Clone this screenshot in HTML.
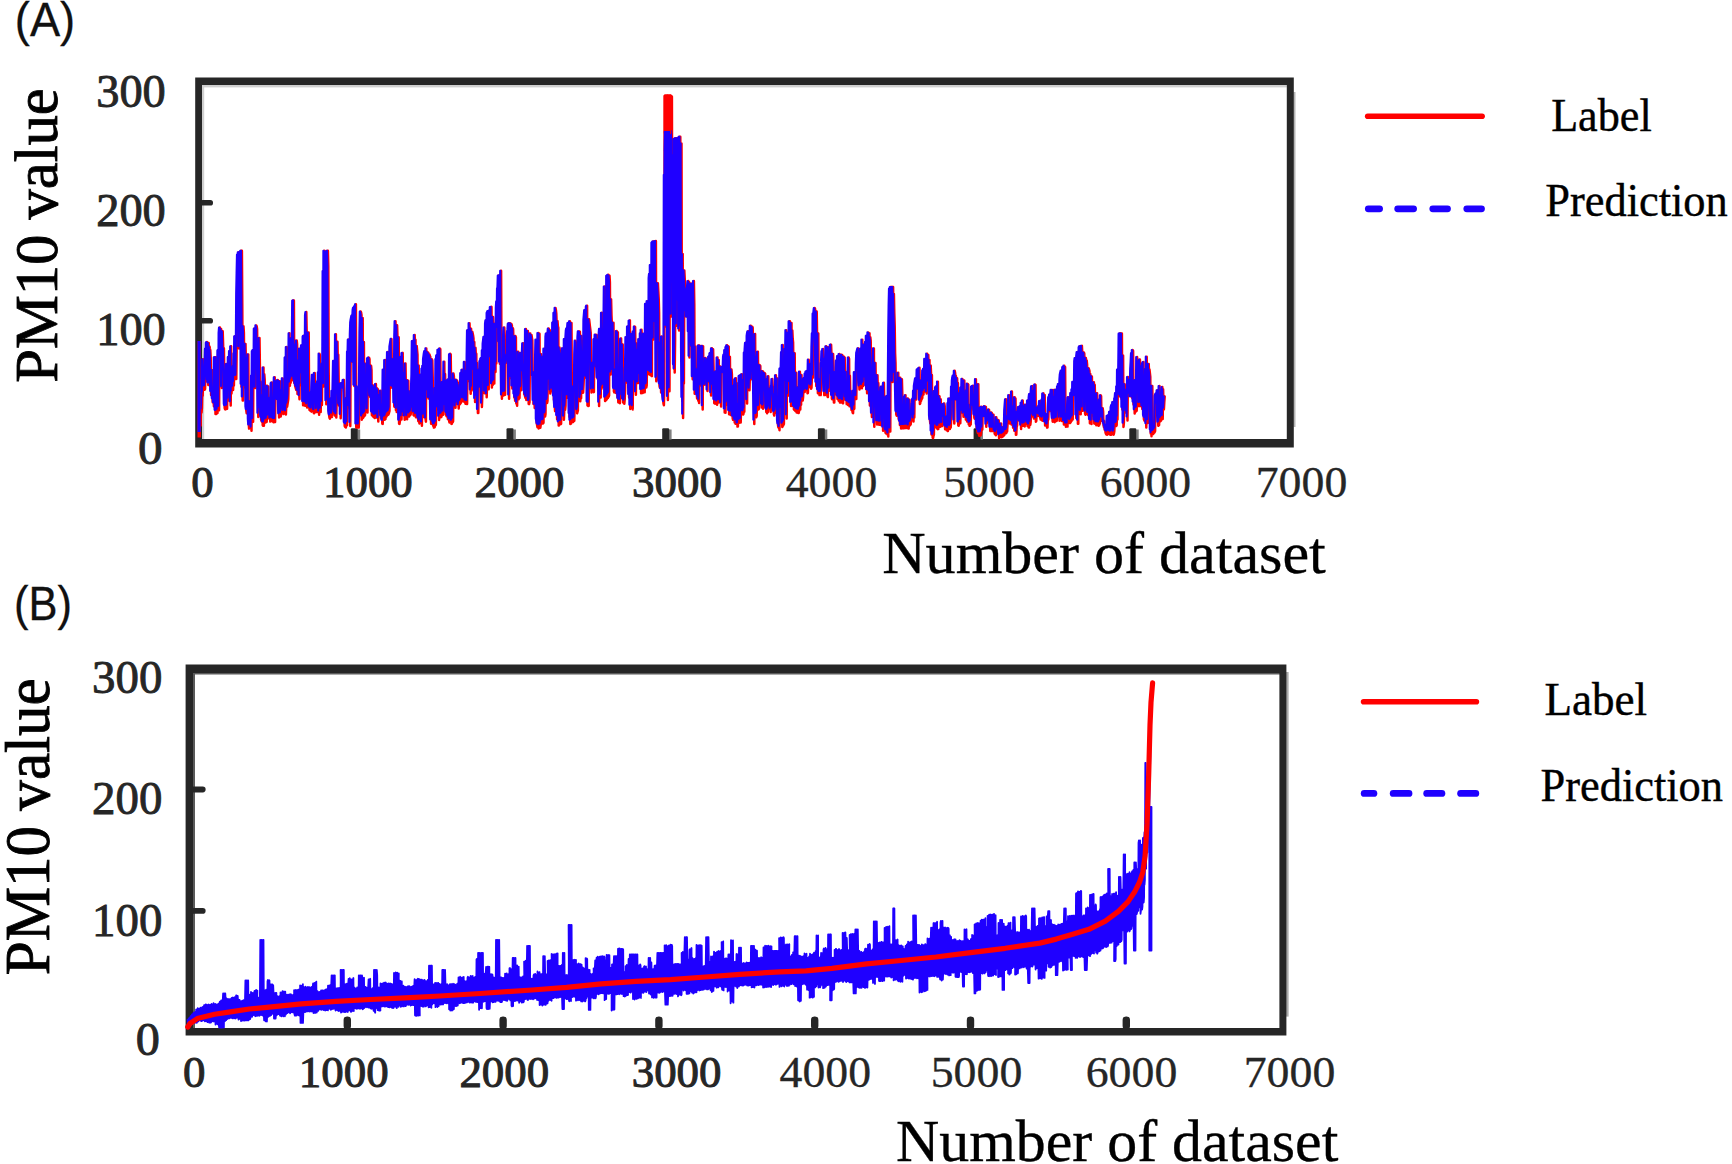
<!DOCTYPE html>
<html lang="en">
<head>
<meta charset="utf-8">
<title>PM10 label vs prediction</title>
<style>
html,body{margin:0;padding:0;background:#ffffff;}
body{width:1732px;height:1164px;overflow:hidden;}
svg{display:block;}
</style>
</head>
<body>
<svg width="1732" height="1164" viewBox="0 0 1732 1164">
<rect width="1732" height="1164" fill="#ffffff"/>
<rect x="201.8" y="85" width="1085" height="2.4" fill="#cfcfcf"/>
<rect x="201.8" y="85" width="2.4" height="354" fill="#cfcfcf"/>
<rect x="1293.5" y="92" width="2" height="335" fill="#b5b5b5"/>
<g fill="#262626">
<path d="M195.2,77.4 H1293.8 V447.6 H195.2 Z M202.0,85.1 V438.9 H1286.8 V85.1 Z" fill-rule="evenodd"/>
</g>
<rect x="357.6" y="429.5" width="2.6" height="10" fill="#808080"/>
<rect x="350.8" y="428.2" width="7" height="12" rx="1.2" fill="#262626"/>
<rect x="513.3" y="429.5" width="2.6" height="10" fill="#808080"/>
<rect x="506.5" y="428.2" width="7" height="12" rx="1.2" fill="#262626"/>
<rect x="669.0" y="429.5" width="2.6" height="10" fill="#808080"/>
<rect x="662.2" y="428.2" width="7" height="12" rx="1.2" fill="#262626"/>
<rect x="824.7" y="429.5" width="2.6" height="10" fill="#808080"/>
<rect x="817.9" y="428.2" width="7" height="12" rx="1.2" fill="#262626"/>
<rect x="980.4" y="429.5" width="2.6" height="10" fill="#808080"/>
<rect x="973.6" y="428.2" width="7" height="12" rx="1.2" fill="#262626"/>
<rect x="1136.1" y="429.5" width="2.6" height="10" fill="#808080"/>
<rect x="1129.3" y="428.2" width="7" height="12" rx="1.2" fill="#262626"/>
<rect x="200" y="199.9" width="13" height="5.6" rx="2.6" fill="#262626"/>
<rect x="200" y="317.9" width="13" height="5.6" rx="2.6" fill="#262626"/>
<path d="M199.5,435.5 L199.9,384.6 L200.3,380.3 L200.7,425.5 L201.1,383.3 L201.5,412.7 L201.9,407.9 L202.3,389.3 L202.7,395.8 L203.1,359.3 L203.5,375.0 L203.9,368.9 L204.3,372.4 L204.7,389.7 L205.1,388.9 L205.5,362.4 L205.9,348.7 L206.3,378.0 L206.7,342.8 L207.1,342.0 L207.5,381.2 L207.9,361.2 L208.3,385.0 L208.7,343.1 L209.1,385.1 L209.5,346.5 L209.9,348.7 L210.3,350.4 L210.7,357.8 L211.1,395.1 L211.5,381.6 L211.9,369.9 L212.3,392.9 L212.7,402.3 L213.1,392.2 L213.5,396.4 L213.9,406.3 L214.3,401.0 L214.7,357.3 L215.1,357.3 L215.5,414.0 L215.9,357.3 L216.3,414.1 L216.7,409.1 L217.1,412.9 L217.5,412.9 L217.9,380.7 L218.3,350.4 L218.7,371.8 L219.1,410.2 L219.5,332.8 L219.9,327.6 L220.3,356.5 L220.7,329.3 L221.1,328.9 L221.5,337.5 L221.9,387.9 L222.3,337.7 L222.7,331.2 L223.1,344.1 L223.5,368.4 L223.9,348.3 L224.3,375.2 L224.7,408.1 L225.1,409.3 L225.5,409.4 L225.9,375.5 L226.3,372.0 L226.7,364.0 L227.1,408.8 L227.5,372.6 L227.9,381.3 L228.3,400.5 L228.7,357.0 L229.1,388.8 L229.5,380.7 L229.9,351.2 L230.3,374.9 L230.7,405.5 L231.1,346.3 L231.5,393.4 L231.9,384.5 L232.3,387.8 L232.7,386.0 L233.1,389.9 L233.5,366.6 L233.9,385.5 L234.3,353.4 L234.7,378.8 L235.1,336.3 L235.5,348.0 L235.9,379.1 L236.3,378.9 L236.7,345.2 L237.1,293.6 L237.5,272.9 L237.9,254.6 L238.3,313.0 L238.7,252.3 L239.1,348.4 L239.5,252.3 L239.9,307.0 L240.3,252.3 L240.7,325.1 L241.1,250.8 L241.5,386.8 L241.9,250.8 L242.3,308.7 L242.7,400.6 L243.1,400.5 L243.5,326.3 L243.9,332.8 L244.3,382.5 L244.7,387.3 L245.1,361.1 L245.5,343.9 L245.9,361.8 L246.3,410.6 L246.7,413.2 L247.1,383.2 L247.5,357.9 L247.9,361.5 L248.3,354.4 L248.7,422.1 L249.1,428.6 L249.5,402.0 L249.9,418.8 L250.3,427.5 L250.7,411.2 L251.1,405.5 L251.5,430.8 L251.9,375.7 L252.3,408.6 L252.7,351.2 L253.1,421.8 L253.5,349.9 L253.9,379.5 L254.3,387.2 L254.7,328.5 L255.1,329.6 L255.5,387.9 L255.9,363.0 L256.3,325.4 L256.7,326.5 L257.1,328.9 L257.5,361.6 L257.9,355.6 L258.3,417.0 L258.7,410.8 L259.1,371.0 L259.5,338.1 L259.9,365.9 L260.3,410.1 L260.7,381.5 L261.1,419.8 L261.5,420.8 L261.9,421.7 L262.3,395.9 L262.7,425.1 L263.1,425.6 L263.5,367.5 L263.9,425.7 L264.3,374.3 L264.7,379.6 L265.1,419.6 L265.5,422.6 L265.9,415.9 L266.3,422.0 L266.7,421.8 L267.1,385.7 L267.5,404.3 L267.9,418.4 L268.3,386.6 L268.7,417.1 L269.1,397.8 L269.5,410.8 L269.9,406.0 L270.3,421.6 L270.7,416.7 L271.1,401.0 L271.5,383.5 L271.9,382.5 L272.3,421.2 L272.7,421.1 L273.1,421.1 L273.5,422.2 L273.9,422.2 L274.3,393.0 L274.7,377.3 L275.1,422.1 L275.5,380.9 L275.9,383.3 L276.3,381.9 L276.7,381.6 L277.1,387.8 L277.5,398.9 L277.9,380.1 L278.3,380.7 L278.7,398.7 L279.1,417.5 L279.5,412.3 L279.9,381.2 L280.3,405.5 L280.7,416.5 L281.1,413.2 L281.5,408.6 L281.9,390.1 L282.3,399.8 L282.7,378.4 L283.1,401.1 L283.5,414.1 L283.9,410.7 L284.3,413.3 L284.7,412.9 L285.1,404.1 L285.5,357.6 L285.9,414.5 L286.3,404.6 L286.7,347.0 L287.1,406.8 L287.5,404.2 L287.9,401.7 L288.3,399.1 L288.7,376.8 L289.1,373.0 L289.5,333.3 L289.9,385.8 L290.3,353.9 L290.7,382.7 L291.1,338.6 L291.5,380.7 L291.9,379.8 L292.3,374.5 L292.7,338.7 L293.1,300.6 L293.5,380.0 L293.9,300.4 L294.3,382.9 L294.7,344.4 L295.1,385.6 L295.5,387.1 L295.9,388.6 L296.3,390.0 L296.7,340.5 L297.1,344.2 L297.5,393.9 L297.9,360.9 L298.3,370.7 L298.7,373.3 L299.1,390.1 L299.5,399.2 L299.9,348.7 L300.3,385.5 L300.7,354.8 L301.1,372.5 L301.5,353.2 L301.9,345.4 L302.3,355.8 L302.7,350.0 L303.1,405.3 L303.5,336.7 L303.9,335.8 L304.3,376.4 L304.7,345.4 L305.1,405.7 L305.5,372.8 L305.9,315.1 L306.3,312.1 L306.7,332.5 L307.1,407.5 L307.5,345.9 L307.9,332.8 L308.3,366.7 L308.7,332.5 L309.1,398.6 L309.5,409.9 L309.9,410.3 L310.3,410.7 L310.7,393.4 L311.1,411.2 L311.5,411.6 L311.9,397.2 L312.3,382.6 L312.7,374.9 L313.1,396.9 L313.5,395.5 L313.9,413.1 L314.3,413.3 L314.7,373.1 L315.1,400.5 L315.5,404.6 L315.9,383.9 L316.3,394.4 L316.7,412.1 L317.1,399.8 L317.5,390.1 L317.9,381.3 L318.3,400.0 L318.7,372.4 L319.1,414.8 L319.5,353.7 L319.9,355.2 L320.3,391.4 L320.7,411.9 L321.1,368.3 L321.5,375.9 L321.9,404.9 L322.3,363.7 L322.7,375.7 L323.1,380.2 L323.5,271.1 L323.9,386.4 L324.3,250.8 L324.7,314.3 L325.1,252.3 L325.5,346.4 L325.9,251.5 L326.3,404.2 L326.7,251.5 L327.1,402.7 L327.5,250.8 L327.9,250.8 L328.3,266.1 L328.7,372.5 L329.1,415.0 L329.5,417.9 L329.9,418.6 L330.3,401.8 L330.7,412.8 L331.1,398.5 L331.5,409.9 L331.9,416.9 L332.3,390.8 L332.7,397.2 L333.1,403.6 L333.5,381.6 L333.9,360.9 L334.3,413.1 L334.7,415.6 L335.1,415.5 L335.5,405.6 L335.9,334.3 L336.3,417.5 L336.7,398.0 L337.1,377.6 L337.5,341.7 L337.9,369.4 L338.3,354.8 L338.7,382.7 L339.1,405.6 L339.5,399.0 L339.9,406.4 L340.3,383.8 L340.7,418.2 L341.1,391.8 L341.5,383.3 L341.9,387.8 L342.3,383.3 L342.7,383.2 L343.1,384.8 L343.5,380.0 L343.9,379.9 L344.3,392.6 L344.7,426.1 L345.1,426.7 L345.5,405.4 L345.9,427.6 L346.3,404.0 L346.7,398.0 L347.1,425.3 L347.5,395.4 L347.9,351.6 L348.3,359.2 L348.7,339.6 L349.1,407.6 L349.5,345.1 L349.9,380.0 L350.3,426.1 L350.7,334.2 L351.1,322.4 L351.5,319.4 L351.9,317.5 L352.3,315.5 L352.7,361.5 L353.1,318.9 L353.5,309.7 L353.9,307.8 L354.3,386.1 L354.7,306.5 L355.1,325.8 L355.5,384.6 L355.9,304.3 L356.3,427.6 L356.7,427.4 L357.1,400.5 L357.5,387.9 L357.9,427.6 L358.3,427.6 L358.7,427.6 L359.1,420.2 L359.5,401.2 L359.9,379.1 L360.3,332.4 L360.7,311.5 L361.1,312.4 L361.5,315.0 L361.9,419.7 L362.3,416.2 L362.7,318.1 L363.1,417.7 L363.5,417.1 L363.9,341.9 L364.3,416.2 L364.7,415.5 L365.1,415.1 L365.5,363.7 L365.9,401.1 L366.3,404.7 L366.7,397.1 L367.1,393.8 L367.5,412.5 L367.9,358.4 L368.3,358.3 L368.7,357.6 L369.1,357.8 L369.5,359.2 L369.9,393.0 L370.3,397.1 L370.7,390.3 L371.1,365.8 L371.5,370.0 L371.9,415.2 L372.3,415.6 L372.7,401.5 L373.1,385.5 L373.5,416.9 L373.9,387.1 L374.3,413.1 L374.7,418.1 L375.1,398.1 L375.5,416.6 L375.9,384.1 L376.3,417.5 L376.7,410.1 L377.1,388.2 L377.5,412.8 L377.9,389.2 L378.3,421.4 L378.7,394.9 L379.1,399.0 L379.5,410.1 L379.9,397.8 L380.3,409.4 L380.7,390.8 L381.1,418.3 L381.5,405.2 L381.9,408.0 L382.3,423.8 L382.7,423.9 L383.1,406.8 L383.5,369.7 L383.9,385.2 L384.3,407.9 L384.7,419.8 L385.1,360.1 L385.5,419.0 L385.9,391.3 L386.3,416.7 L386.7,399.2 L387.1,415.5 L387.5,375.2 L387.9,352.1 L388.3,414.7 L388.7,413.8 L389.1,412.4 L389.5,411.0 L389.9,366.4 L390.3,346.4 L390.7,343.9 L391.1,341.4 L391.5,338.9 L391.9,387.6 L392.3,387.8 L392.7,358.8 L393.1,373.4 L393.5,359.4 L393.9,376.3 L394.3,406.6 L394.7,406.8 L395.1,338.0 L395.5,321.2 L395.9,409.9 L396.3,387.1 L396.7,412.0 L397.1,325.3 L397.5,337.6 L397.9,370.8 L398.3,337.0 L398.7,337.3 L399.1,423.8 L399.5,423.9 L399.9,421.3 L400.3,367.8 L400.7,357.0 L401.1,396.7 L401.5,419.4 L401.9,403.6 L402.3,353.2 L402.7,352.9 L403.1,414.7 L403.5,414.7 L403.9,373.1 L404.3,398.0 L404.7,419.7 L405.1,375.2 L405.5,363.5 L405.9,390.4 L406.3,409.2 L406.7,397.9 L407.1,419.3 L407.5,380.2 L407.9,387.4 L408.3,380.7 L408.7,408.5 L409.1,416.6 L409.5,391.5 L409.9,415.5 L410.3,415.0 L410.7,414.4 L411.1,411.0 L411.5,410.9 L411.9,387.7 L412.3,374.4 L412.7,341.1 L413.1,387.7 L413.5,415.1 L413.9,415.4 L414.3,407.0 L414.7,335.0 L415.1,373.8 L415.5,339.7 L415.9,417.2 L416.3,366.7 L416.7,345.9 L417.1,350.3 L417.5,354.7 L417.9,416.3 L418.3,421.2 L418.7,365.6 L419.1,421.1 L419.5,423.6 L419.9,387.2 L420.3,374.8 L420.7,374.9 L421.1,375.1 L421.5,405.8 L421.9,425.7 L422.3,368.6 L422.7,391.7 L423.1,365.8 L423.5,416.9 L423.9,359.2 L424.3,356.2 L424.7,353.2 L425.1,351.2 L425.5,418.0 L425.9,421.7 L426.3,348.4 L426.7,390.2 L427.1,351.7 L427.5,352.4 L427.9,353.7 L428.3,352.6 L428.7,398.5 L429.1,357.0 L429.5,354.5 L429.9,356.1 L430.3,356.7 L430.7,396.2 L431.1,423.7 L431.5,410.8 L431.9,359.3 L432.3,360.5 L432.7,377.2 L433.1,425.7 L433.5,416.3 L433.9,427.6 L434.3,427.4 L434.7,427.3 L435.1,388.1 L435.5,425.3 L435.9,424.6 L436.3,359.1 L436.7,360.9 L437.1,355.4 L437.5,368.7 L437.9,409.2 L438.3,349.8 L438.7,352.4 L439.1,420.0 L439.5,411.0 L439.9,348.5 L440.3,349.2 L440.7,417.3 L441.1,416.9 L441.5,416.7 L441.9,397.1 L442.3,399.3 L442.7,382.1 L443.1,414.8 L443.5,414.5 L443.9,399.5 L444.3,361.7 L444.7,404.2 L445.1,373.9 L445.5,407.1 L445.9,400.8 L446.3,415.6 L446.7,416.2 L447.1,380.7 L447.5,400.3 L447.9,419.1 L448.3,379.5 L448.7,404.7 L449.1,420.8 L449.5,422.5 L449.9,354.5 L450.3,353.9 L450.7,354.5 L451.1,385.9 L451.5,423.9 L451.9,423.8 L452.3,380.1 L452.7,422.2 L453.1,421.3 L453.5,373.6 L453.9,376.2 L454.3,397.3 L454.7,386.1 L455.1,391.9 L455.5,407.8 L455.9,379.7 L456.3,403.9 L456.7,382.7 L457.1,380.4 L457.5,402.9 L457.9,382.4 L458.3,396.9 L458.7,408.5 L459.1,399.0 L459.5,389.0 L459.9,404.2 L460.3,384.9 L460.7,403.3 L461.1,373.0 L461.5,394.9 L461.9,377.2 L462.3,369.8 L462.7,401.3 L463.1,373.4 L463.5,401.5 L463.9,401.5 L464.3,401.5 L464.7,361.9 L465.1,401.3 L465.5,403.7 L465.9,384.1 L466.3,370.9 L466.7,404.1 L467.1,404.1 L467.5,356.3 L467.9,330.3 L468.3,377.6 L468.7,381.1 L469.1,374.3 L469.5,323.2 L469.9,334.3 L470.3,377.2 L470.7,393.7 L471.1,328.8 L471.5,390.7 L471.9,389.3 L472.3,331.7 L472.7,333.6 L473.1,335.4 L473.5,338.3 L473.9,369.1 L474.3,342.0 L474.7,376.7 L475.1,402.1 L475.5,347.8 L475.9,357.2 L476.3,353.8 L476.7,397.0 L477.1,362.9 L477.5,371.3 L477.9,413.1 L478.3,412.9 L478.7,382.1 L479.1,386.9 L479.5,369.5 L479.9,386.6 L480.3,361.1 L480.7,378.5 L481.1,359.0 L481.5,358.1 L481.9,406.9 L482.3,395.0 L482.7,350.3 L483.1,378.0 L483.5,343.6 L483.9,340.3 L484.3,336.9 L484.7,393.3 L485.1,390.2 L485.5,364.3 L485.9,323.6 L486.3,320.3 L486.7,397.3 L487.1,379.9 L487.5,312.9 L487.9,312.0 L488.3,311.0 L488.7,389.2 L489.1,310.7 L489.5,335.8 L489.9,357.2 L490.3,341.3 L490.7,307.2 L491.1,307.6 L491.5,306.9 L491.9,387.5 L492.3,322.2 L492.7,385.1 L493.1,317.0 L493.5,326.2 L493.9,358.3 L494.3,383.6 L494.7,324.0 L495.1,370.1 L495.5,372.0 L495.9,323.9 L496.3,363.6 L496.7,307.7 L497.1,301.3 L497.5,327.0 L497.9,288.4 L498.3,288.6 L498.7,275.6 L499.1,342.1 L499.5,275.3 L499.9,363.7 L500.3,275.0 L500.7,325.8 L501.1,270.8 L501.5,363.4 L501.9,398.7 L502.3,376.9 L502.7,394.5 L503.1,360.3 L503.5,395.4 L503.9,337.6 L504.3,327.6 L504.7,335.4 L505.1,394.8 L505.5,355.2 L505.9,357.2 L506.3,362.8 L506.7,360.4 L507.1,354.3 L507.5,355.5 L507.9,331.9 L508.3,329.4 L508.7,323.5 L509.1,398.7 L509.5,348.6 L509.9,323.2 L510.3,363.7 L510.7,378.0 L511.1,323.7 L511.5,324.3 L511.9,325.5 L512.3,388.6 L512.7,327.9 L513.1,328.9 L513.5,341.3 L513.9,345.0 L514.3,397.6 L514.7,355.1 L515.1,400.8 L515.5,336.1 L515.9,337.3 L516.3,403.6 L516.7,398.4 L517.1,405.8 L517.5,388.5 L517.9,395.1 L518.3,351.8 L518.7,399.2 L519.1,366.7 L519.5,397.9 L519.9,383.8 L520.3,355.5 L520.7,353.1 L521.1,390.3 L521.5,368.9 L521.9,356.0 L522.3,371.2 L522.7,352.9 L523.1,343.3 L523.5,363.5 L523.9,369.1 L524.3,394.5 L524.7,377.9 L525.1,396.7 L525.5,397.9 L525.9,329.0 L526.3,400.1 L526.7,379.4 L527.1,374.6 L527.5,361.0 L527.9,330.9 L528.3,356.1 L528.7,404.0 L529.1,404.1 L529.5,402.2 L529.9,355.5 L530.3,333.6 L530.7,347.9 L531.1,345.7 L531.5,335.0 L531.9,337.6 L532.3,340.3 L532.7,375.6 L533.1,372.3 L533.5,404.1 L533.9,392.8 L534.3,372.3 L534.7,408.0 L535.1,394.7 L535.5,387.8 L535.9,359.1 L536.3,339.7 L536.7,422.7 L537.1,425.0 L537.5,427.3 L537.9,383.5 L538.3,333.1 L538.7,428.5 L539.1,428.0 L539.5,333.7 L539.9,402.7 L540.3,427.7 L540.7,425.0 L541.1,354.3 L541.5,423.8 L541.9,364.3 L542.3,356.8 L542.7,358.3 L543.1,423.4 L543.5,422.8 L543.9,375.8 L544.3,348.7 L544.7,358.6 L545.1,416.5 L545.5,414.1 L545.9,363.6 L546.3,336.7 L546.7,333.5 L547.1,403.1 L547.5,400.7 L547.9,370.9 L548.3,333.8 L548.7,328.6 L549.1,329.5 L549.5,381.5 L549.9,330.2 L550.3,393.6 L550.7,332.7 L551.1,334.1 L551.5,364.5 L551.9,332.7 L552.3,391.2 L552.7,367.5 L553.1,322.5 L553.5,378.4 L553.9,399.8 L554.3,312.9 L554.7,404.6 L555.1,411.1 L555.5,307.9 L555.9,310.0 L556.3,313.6 L556.7,324.6 L557.1,419.3 L557.5,321.1 L557.9,326.4 L558.3,327.7 L558.7,425.6 L559.1,413.8 L559.5,347.6 L559.9,351.8 L560.3,404.3 L560.7,424.2 L561.1,423.7 L561.5,384.4 L561.9,354.3 L562.3,352.5 L562.7,348.4 L563.1,382.1 L563.5,379.8 L563.9,419.8 L564.3,410.3 L564.7,339.0 L565.1,409.9 L565.5,405.9 L565.9,383.4 L566.3,336.5 L566.7,330.2 L567.1,328.4 L567.5,397.8 L567.9,329.2 L568.3,323.1 L568.7,363.8 L569.1,387.0 L569.5,416.7 L569.9,321.2 L570.3,424.0 L570.7,329.9 L571.1,423.5 L571.5,323.1 L571.9,408.5 L572.3,392.8 L572.7,393.9 L573.1,422.0 L573.5,387.7 L573.9,421.2 L574.3,420.8 L574.7,397.4 L575.1,354.3 L575.5,340.7 L575.9,342.8 L576.3,360.2 L576.7,372.3 L577.1,413.3 L577.5,411.9 L577.9,410.4 L578.3,337.1 L578.7,331.4 L579.1,331.5 L579.5,369.6 L579.9,331.7 L580.3,401.2 L580.7,353.2 L581.1,398.2 L581.5,335.9 L581.9,350.3 L582.3,375.4 L582.7,375.7 L583.1,392.8 L583.5,385.2 L583.9,375.9 L584.3,319.6 L584.7,314.8 L585.1,310.0 L585.5,364.7 L585.9,377.5 L586.3,347.9 L586.7,306.6 L587.1,305.7 L587.5,405.4 L587.9,405.6 L588.3,406.0 L588.7,405.9 L589.1,319.3 L589.5,322.7 L589.9,326.1 L590.3,329.5 L590.7,332.9 L591.1,367.0 L591.5,392.6 L591.9,362.6 L592.3,364.6 L592.7,373.2 L593.1,365.3 L593.5,390.9 L593.9,392.1 L594.3,339.3 L594.7,366.5 L595.1,354.9 L595.5,334.7 L595.9,334.8 L596.3,335.2 L596.7,335.1 L597.1,368.0 L597.5,378.4 L597.9,376.2 L598.3,339.5 L598.7,340.3 L599.1,405.9 L599.5,334.9 L599.9,328.9 L600.3,389.0 L600.7,397.5 L601.1,362.7 L601.5,388.7 L601.9,312.7 L602.3,342.8 L602.7,346.5 L603.1,386.9 L603.5,345.7 L603.9,331.6 L604.3,328.7 L604.7,286.6 L605.1,401.0 L605.5,400.6 L605.9,388.8 L606.3,399.8 L606.7,399.4 L607.1,275.7 L607.5,373.7 L607.9,397.9 L608.3,274.7 L608.7,396.7 L609.1,395.4 L609.5,275.7 L609.9,282.0 L610.3,344.8 L610.7,374.4 L611.1,299.3 L611.5,315.8 L611.9,324.0 L612.3,349.8 L612.7,370.9 L613.1,346.0 L613.5,322.7 L613.9,391.3 L614.3,392.4 L614.7,370.7 L615.1,390.8 L615.5,387.5 L615.9,392.9 L616.3,388.7 L616.7,331.0 L617.1,381.9 L617.5,397.2 L617.9,332.2 L618.3,402.3 L618.7,402.5 L619.1,402.7 L619.5,402.9 L619.9,403.1 L620.3,364.4 L620.7,343.5 L621.1,338.6 L621.5,367.7 L621.9,369.2 L622.3,398.3 L622.7,344.6 L623.1,402.4 L623.5,402.6 L623.9,394.6 L624.3,403.8 L624.7,399.4 L625.1,390.4 L625.5,368.4 L625.9,366.0 L626.3,337.2 L626.7,370.1 L627.1,367.3 L627.5,382.7 L627.9,326.6 L628.3,358.0 L628.7,365.2 L629.1,397.5 L629.5,320.8 L629.9,320.4 L630.3,408.9 L630.7,406.3 L631.1,351.3 L631.5,333.9 L631.9,345.0 L632.3,403.9 L632.7,409.4 L633.1,368.8 L633.5,331.7 L633.9,380.7 L634.3,380.6 L634.7,326.6 L635.1,327.1 L635.5,351.6 L635.9,394.7 L636.3,343.2 L636.7,351.6 L637.1,383.0 L637.5,349.5 L637.9,368.6 L638.3,382.9 L638.7,367.8 L639.1,339.2 L639.5,356.7 L639.9,350.7 L640.3,374.3 L640.7,333.3 L641.1,393.3 L641.5,329.8 L641.9,340.2 L642.3,355.8 L642.7,393.0 L643.1,339.1 L643.5,379.0 L643.9,333.7 L644.3,386.9 L644.7,392.3 L645.1,351.3 L645.5,374.1 L645.9,303.9 L646.3,387.5 L646.7,385.3 L647.1,356.2 L647.5,301.2 L647.9,344.9 L648.3,373.8 L648.7,373.9 L649.1,374.2 L649.5,278.2 L649.9,273.8 L650.3,375.0 L650.7,265.0 L651.1,375.5 L651.5,375.8 L651.9,376.2 L652.3,242.6 L652.7,260.7 L653.1,241.5 L653.5,339.5 L653.9,241.6 L654.3,314.5 L654.7,241.6 L655.1,317.3 L655.5,321.7 L655.9,241.0 L656.3,381.2 L656.7,380.0 L657.1,345.3 L657.5,344.7 L657.9,283.2 L658.3,290.8 L658.7,298.4 L659.1,312.7 L659.5,386.0 L659.9,387.6 L660.3,363.8 L660.7,342.9 L661.1,392.4 L661.5,392.4 L661.9,336.5 L662.3,360.0 L662.7,395.4 L663.1,398.8 L663.5,403.6 L663.9,405.2 L664.3,387.9 L664.7,95.9 L665.1,96.2 L665.5,96.4 L665.9,96.3 L666.3,326.6 L666.7,96.2 L667.1,296.1 L667.5,95.7 L667.9,400.0 L668.3,96.2 L668.7,377.9 L669.1,96.4 L669.5,391.2 L669.9,95.9 L670.3,286.4 L670.7,95.6 L671.1,95.8 L671.5,316.5 L671.9,96.5 L672.3,278.5 L672.7,155.0 L673.1,166.7 L673.5,171.5 L673.9,368.5 L674.3,139.0 L674.7,372.5 L675.1,340.5 L675.5,138.3 L675.9,273.0 L676.3,138.3 L676.7,325.7 L677.1,138.3 L677.5,301.0 L677.9,138.3 L678.3,284.2 L678.7,138.3 L679.1,330.5 L679.5,136.8 L679.9,281.4 L680.3,136.8 L680.7,277.8 L681.1,327.5 L681.5,143.5 L681.9,350.3 L682.3,400.9 L682.7,254.1 L683.1,418.0 L683.5,357.0 L683.9,383.6 L684.3,270.4 L684.7,278.0 L685.1,285.6 L685.5,293.2 L685.9,310.3 L686.3,303.4 L686.7,316.5 L687.1,291.4 L687.5,288.2 L687.9,286.6 L688.3,281.0 L688.7,331.2 L689.1,281.9 L689.5,357.5 L689.9,283.8 L690.3,326.9 L690.7,283.8 L691.1,342.1 L691.5,283.8 L691.9,346.0 L692.3,283.8 L692.7,379.3 L693.1,365.3 L693.5,367.8 L693.9,281.0 L694.3,304.6 L694.7,393.7 L695.1,387.9 L695.5,346.6 L695.9,382.5 L696.3,392.8 L696.7,391.9 L697.1,398.4 L697.5,369.0 L697.9,390.5 L698.3,400.6 L698.7,345.6 L699.1,403.0 L699.5,345.6 L699.9,345.8 L700.3,385.4 L700.7,346.2 L701.1,364.1 L701.5,346.7 L701.9,366.9 L702.3,345.9 L702.7,409.4 L703.1,346.3 L703.5,384.9 L703.9,370.9 L704.3,380.2 L704.7,378.0 L705.1,384.5 L705.5,358.0 L705.9,359.4 L706.3,367.3 L706.7,362.0 L707.1,363.6 L707.5,391.1 L707.9,359.7 L708.3,358.6 L708.7,357.6 L709.1,356.5 L709.5,381.6 L709.9,374.4 L710.3,353.3 L710.7,352.8 L711.1,395.4 L711.5,356.4 L711.9,348.3 L712.3,385.1 L712.7,349.3 L713.1,349.2 L713.5,366.1 L713.9,386.6 L714.3,403.2 L714.7,403.4 L715.1,403.6 L715.5,374.4 L715.9,371.5 L716.3,403.4 L716.7,371.3 L717.1,404.7 L717.5,357.5 L717.9,394.5 L718.3,380.0 L718.7,359.9 L719.1,402.4 L719.5,398.1 L719.9,388.1 L720.3,366.4 L720.7,369.2 L721.1,406.4 L721.5,373.9 L721.9,369.5 L722.3,368.8 L722.7,366.8 L723.1,371.9 L723.5,368.6 L723.9,356.8 L724.3,354.5 L724.7,412.4 L725.1,350.0 L725.5,412.8 L725.9,370.2 L726.3,347.0 L726.7,404.7 L727.1,345.3 L727.5,346.7 L727.9,402.1 L728.3,346.3 L728.7,346.5 L729.1,414.3 L729.5,380.4 L729.9,356.7 L730.3,396.1 L730.7,415.0 L731.1,396.6 L731.5,369.5 L731.9,374.3 L732.3,404.1 L732.7,418.5 L733.1,419.8 L733.5,402.9 L733.9,385.8 L734.3,395.7 L734.7,422.4 L735.1,379.3 L735.5,423.7 L735.9,378.3 L736.3,410.9 L736.7,382.9 L737.1,410.4 L737.5,426.6 L737.9,426.5 L738.3,404.8 L738.7,407.7 L739.1,422.7 L739.5,376.0 L739.9,375.8 L740.3,375.5 L740.7,422.5 L741.1,405.4 L741.5,391.4 L741.9,374.3 L742.3,412.9 L742.7,379.9 L743.1,414.5 L743.5,413.9 L743.9,394.9 L744.3,411.8 L744.7,352.6 L745.1,358.6 L745.5,348.9 L745.9,342.8 L746.3,362.1 L746.7,363.5 L747.1,403.4 L747.5,336.0 L747.9,333.0 L748.3,331.3 L748.7,332.3 L749.1,379.9 L749.5,390.2 L749.9,373.7 L750.3,343.4 L750.7,325.8 L751.1,379.2 L751.5,327.2 L751.9,334.0 L752.3,326.8 L752.7,327.8 L753.1,365.6 L753.5,377.0 L753.9,384.5 L754.3,423.9 L754.7,378.4 L755.1,334.1 L755.5,388.7 L755.9,417.1 L756.3,417.2 L756.7,415.9 L757.1,356.9 L757.5,356.6 L757.9,351.8 L758.3,386.7 L758.7,409.4 L759.1,408.4 L759.5,365.0 L759.9,365.4 L760.3,365.8 L760.7,392.4 L761.1,389.1 L761.5,396.1 L761.9,407.5 L762.3,378.1 L762.7,371.2 L763.1,408.7 L763.5,407.7 L763.9,375.2 L764.3,372.8 L764.7,373.2 L765.1,373.6 L765.5,379.6 L765.9,391.3 L766.3,412.0 L766.7,394.2 L767.1,413.2 L767.5,379.0 L767.9,412.0 L768.3,376.3 L768.7,391.9 L769.1,394.8 L769.5,409.0 L769.9,388.9 L770.3,405.2 L770.7,412.0 L771.1,396.6 L771.5,386.0 L771.9,389.6 L772.3,379.0 L772.7,386.3 L773.1,386.7 L773.5,398.7 L773.9,414.3 L774.3,415.5 L774.7,394.2 L775.1,413.2 L775.5,410.4 L775.9,375.3 L776.3,393.6 L776.7,406.9 L777.1,387.9 L777.5,378.5 L777.9,424.2 L778.3,427.2 L778.7,427.7 L779.1,425.6 L779.5,430.2 L779.9,390.0 L780.3,368.7 L780.7,408.5 L781.1,405.3 L781.5,367.9 L781.9,352.2 L782.3,427.0 L782.7,345.1 L783.1,425.6 L783.5,424.8 L783.9,424.0 L784.3,369.5 L784.7,376.3 L785.1,348.9 L785.5,380.3 L785.9,364.5 L786.3,330.2 L786.7,418.5 L787.1,336.0 L787.5,332.8 L787.9,395.7 L788.3,340.8 L788.7,336.2 L789.1,382.4 L789.5,321.2 L789.9,321.2 L790.3,343.5 L790.7,348.5 L791.1,406.1 L791.5,323.1 L791.9,405.7 L792.3,330.4 L792.7,338.7 L793.1,342.3 L793.5,376.9 L793.9,409.4 L794.3,409.8 L794.7,353.2 L795.1,410.6 L795.5,411.0 L795.9,411.4 L796.3,372.8 L796.7,412.4 L797.1,395.1 L797.5,401.0 L797.9,387.5 L798.3,412.9 L798.7,412.9 L799.1,410.8 L799.5,394.0 L799.9,371.7 L800.3,409.6 L800.7,376.3 L801.1,404.8 L801.5,375.0 L801.9,395.0 L802.3,400.0 L802.7,400.5 L803.1,397.2 L803.5,383.5 L803.9,378.8 L804.3,378.2 L804.7,392.0 L805.1,383.4 L805.5,373.5 L805.9,390.1 L806.3,371.7 L806.7,372.3 L807.1,371.1 L807.5,393.2 L807.9,392.9 L808.3,381.1 L808.7,359.7 L809.1,374.0 L809.5,374.9 L809.9,381.1 L810.3,387.2 L810.7,364.0 L811.1,388.7 L811.5,387.8 L811.9,375.6 L812.3,347.0 L812.7,333.3 L813.1,377.6 L813.5,313.6 L813.9,328.0 L814.3,311.5 L814.7,308.0 L815.1,308.9 L815.5,337.4 L815.9,346.9 L816.3,385.9 L816.7,311.6 L817.1,336.7 L817.5,365.0 L817.9,393.3 L818.3,333.5 L818.7,386.7 L819.1,380.6 L819.5,395.1 L819.9,395.1 L820.3,395.1 L820.7,395.1 L821.1,386.7 L821.5,363.6 L821.9,361.9 L822.3,351.0 L822.7,365.6 L823.1,349.0 L823.5,357.0 L823.9,381.6 L824.3,395.1 L824.7,366.6 L825.1,395.1 L825.5,358.7 L825.9,364.0 L826.3,346.3 L826.7,347.8 L827.1,347.7 L827.5,396.6 L827.9,397.0 L828.3,347.3 L828.7,383.7 L829.1,390.8 L829.5,368.7 L829.9,372.9 L830.3,361.3 L830.7,344.8 L831.1,344.7 L831.5,355.4 L831.9,398.7 L832.3,399.2 L832.7,376.8 L833.1,353.9 L833.5,367.3 L833.9,402.4 L834.3,402.4 L834.7,372.0 L835.1,389.5 L835.5,379.8 L835.9,394.1 L836.3,373.9 L836.7,360.7 L837.1,373.3 L837.5,399.0 L837.9,356.0 L838.3,368.6 L838.7,400.7 L839.1,371.5 L839.5,354.1 L839.9,402.4 L840.3,401.0 L840.7,401.2 L841.1,356.6 L841.5,402.5 L841.9,354.8 L842.3,355.2 L842.7,397.2 L843.1,403.3 L843.5,360.5 L843.9,356.8 L844.3,381.7 L844.7,357.6 L845.1,388.7 L845.5,399.6 L845.9,371.7 L846.3,395.0 L846.7,404.1 L847.1,395.5 L847.5,399.7 L847.9,404.9 L848.3,377.4 L848.7,357.5 L849.1,358.9 L849.5,406.2 L849.9,375.7 L850.3,397.2 L850.7,392.8 L851.1,391.4 L851.5,409.9 L851.9,398.2 L852.3,410.4 L852.7,412.9 L853.1,413.1 L853.5,390.9 L853.9,409.1 L854.3,408.6 L854.7,372.2 L855.1,387.9 L855.5,378.4 L855.9,377.8 L856.3,399.1 L856.7,363.3 L857.1,352.8 L857.5,351.3 L857.9,349.9 L858.3,348.4 L858.7,364.5 L859.1,382.9 L859.5,389.5 L859.9,386.1 L860.3,383.1 L860.7,348.8 L861.1,378.8 L861.5,387.5 L861.9,388.3 L862.3,339.7 L862.7,384.3 L863.1,386.0 L863.5,385.5 L863.9,344.7 L864.3,351.5 L864.7,376.7 L865.1,379.1 L865.5,347.0 L865.9,341.9 L866.3,389.3 L866.7,335.8 L867.1,393.3 L867.5,377.0 L867.9,381.5 L868.3,332.4 L868.7,333.0 L869.1,393.0 L869.5,333.3 L869.9,405.4 L870.3,337.2 L870.7,340.6 L871.1,367.5 L871.5,399.5 L871.9,416.9 L872.3,375.8 L872.7,375.1 L873.1,373.2 L873.5,356.6 L873.9,348.4 L874.3,426.7 L874.7,410.8 L875.1,399.3 L875.5,362.9 L875.9,396.8 L876.3,393.5 L876.7,392.2 L877.1,424.5 L877.5,375.2 L877.9,400.3 L878.3,383.0 L878.7,392.8 L879.1,424.8 L879.5,391.4 L879.9,403.4 L880.3,394.6 L880.7,424.9 L881.1,387.8 L881.5,386.7 L881.9,409.7 L882.3,396.9 L882.7,395.6 L883.1,430.8 L883.5,386.4 L883.9,382.8 L884.3,405.7 L884.7,420.4 L885.1,397.1 L885.5,432.8 L885.9,433.3 L886.3,414.7 L886.7,433.6 L887.1,396.1 L887.5,434.6 L887.9,400.0 L888.3,436.6 L888.7,380.4 L889.1,334.1 L889.5,305.7 L889.9,288.5 L890.3,431.4 L890.7,287.1 L891.1,372.5 L891.5,287.1 L891.9,348.3 L892.3,287.1 L892.7,382.1 L893.1,287.1 L893.5,373.2 L893.9,293.9 L894.3,313.3 L894.7,326.1 L895.1,353.3 L895.5,362.8 L895.9,391.4 L896.3,414.5 L896.7,415.6 L897.1,385.0 L897.5,381.9 L897.9,406.0 L898.3,372.8 L898.7,418.7 L899.1,419.8 L899.5,400.5 L899.9,424.9 L900.3,377.8 L900.7,383.0 L901.1,428.5 L901.5,399.7 L901.9,379.2 L902.3,394.0 L902.7,428.2 L903.1,425.4 L903.5,428.0 L903.9,426.8 L904.3,428.1 L904.7,396.9 L905.1,399.9 L905.5,395.3 L905.9,427.9 L906.3,427.9 L906.7,420.6 L907.1,405.1 L907.5,421.0 L907.9,398.5 L908.3,428.5 L908.7,428.5 L909.1,399.9 L909.5,399.7 L909.9,425.4 L910.3,424.9 L910.7,424.3 L911.1,418.9 L911.5,410.6 L911.9,414.2 L912.3,403.5 L912.7,402.2 L913.1,398.6 L913.5,421.6 L913.9,390.7 L914.3,417.5 L914.7,385.8 L915.1,383.3 L915.5,380.8 L915.9,378.4 L916.3,399.5 L916.7,382.8 L917.1,388.5 L917.5,369.7 L917.9,388.5 L918.3,368.8 L918.7,386.8 L919.1,375.6 L919.5,367.8 L919.9,404.0 L920.3,403.0 L920.7,380.2 L921.1,400.9 L921.5,396.9 L921.9,398.9 L922.3,397.8 L922.7,387.9 L923.1,370.4 L923.5,394.5 L923.9,368.9 L924.3,374.7 L924.7,391.6 L925.1,358.9 L925.5,385.2 L925.9,368.2 L926.3,370.2 L926.7,393.6 L927.1,353.7 L927.5,381.0 L927.9,360.4 L928.3,355.1 L928.7,366.6 L929.1,368.4 L929.5,359.9 L929.9,419.7 L930.3,423.4 L930.7,365.5 L931.1,374.4 L931.5,434.5 L931.9,374.9 L932.3,426.6 L932.7,437.8 L933.1,438.1 L933.5,435.8 L933.9,434.8 L934.3,391.2 L934.7,422.8 L935.1,416.0 L935.5,427.2 L935.9,387.8 L936.3,386.5 L936.7,420.7 L937.1,428.2 L937.5,429.1 L937.9,381.7 L938.3,428.9 L938.7,403.6 L939.1,398.2 L939.5,396.3 L939.9,421.4 L940.3,426.8 L940.7,399.3 L941.1,421.6 L941.5,418.8 L941.9,405.4 L942.3,426.0 L942.7,404.3 L943.1,406.1 L943.5,412.6 L943.9,416.3 L944.3,403.6 L944.7,406.2 L945.1,429.3 L945.5,422.1 L945.9,422.8 L946.3,416.8 L946.7,430.3 L947.1,430.3 L947.5,418.8 L947.9,431.1 L948.3,403.0 L948.7,412.2 L949.1,398.6 L949.5,398.5 L949.9,429.1 L950.3,406.8 L950.7,427.8 L951.1,421.1 L951.5,416.2 L951.9,386.6 L952.3,399.6 L952.7,380.6 L953.1,377.5 L953.5,375.7 L953.9,383.3 L954.3,423.6 L954.7,370.8 L955.1,372.8 L955.5,376.7 L955.9,375.9 L956.3,399.2 L956.7,379.4 L957.1,378.1 L957.5,390.0 L957.9,383.0 L958.3,425.6 L958.7,425.7 L959.1,415.8 L959.5,393.3 L959.9,421.9 L960.3,423.2 L960.7,405.9 L961.1,387.5 L961.5,412.4 L961.9,404.8 L962.3,378.9 L962.7,395.8 L963.1,400.4 L963.5,416.7 L963.9,382.8 L964.3,380.6 L964.7,402.8 L965.1,395.7 L965.5,413.5 L965.9,419.6 L966.3,414.6 L966.7,390.6 L967.1,421.4 L967.5,383.7 L967.9,384.2 L968.3,384.6 L968.7,424.3 L969.1,404.7 L969.5,425.8 L969.9,425.6 L970.3,424.4 L970.7,424.5 L971.1,410.1 L971.5,410.0 L971.9,386.6 L972.3,405.0 L972.7,396.5 L973.1,385.8 L973.5,397.1 L973.9,397.6 L974.3,417.8 L974.7,418.7 L975.1,407.7 L975.5,397.8 L975.9,379.2 L976.3,402.9 L976.7,428.1 L977.1,425.1 L977.5,431.4 L977.9,433.1 L978.3,384.3 L978.7,422.3 L979.1,435.6 L979.5,435.7 L979.9,408.1 L980.3,435.4 L980.7,435.4 L981.1,432.9 L981.5,406.8 L981.9,425.3 L982.3,429.7 L982.7,408.2 L983.1,407.4 L983.5,408.1 L983.9,408.4 L984.3,415.9 L984.7,406.2 L985.1,415.7 L985.5,408.0 L985.9,407.0 L986.3,426.8 L986.7,417.5 L987.1,422.9 L987.5,416.1 L987.9,420.9 L988.3,411.1 L988.7,409.5 L989.1,410.0 L989.5,417.3 L989.9,419.6 L990.3,430.9 L990.7,430.9 L991.1,430.1 L991.5,412.6 L991.9,413.2 L992.3,431.0 L992.7,430.4 L993.1,423.0 L993.5,414.8 L993.9,427.5 L994.3,428.9 L994.7,433.8 L995.1,434.3 L995.5,434.7 L995.9,435.2 L996.3,417.2 L996.7,431.9 L997.1,419.4 L997.5,419.9 L997.9,420.4 L998.3,421.0 L998.7,420.3 L999.1,438.3 L999.5,431.2 L999.9,437.3 L1000.3,434.7 L1000.7,423.7 L1001.1,423.5 L1001.5,436.6 L1001.9,437.1 L1002.3,430.5 L1002.7,427.2 L1003.1,436.3 L1003.5,435.7 L1003.9,428.0 L1004.3,435.2 L1004.7,428.8 L1005.1,410.0 L1005.5,404.7 L1005.9,399.3 L1006.3,433.2 L1006.7,428.9 L1007.1,431.7 L1007.5,424.9 L1007.9,417.3 L1008.3,417.4 L1008.7,417.4 L1009.1,395.2 L1009.5,404.6 L1009.9,423.4 L1010.3,422.5 L1010.7,409.2 L1011.1,416.3 L1011.5,424.4 L1011.9,391.6 L1012.3,416.5 L1012.7,406.2 L1013.1,427.7 L1013.5,426.3 L1013.9,418.7 L1014.3,430.8 L1014.7,397.3 L1015.1,411.8 L1015.5,398.6 L1015.9,434.8 L1016.3,434.6 L1016.7,426.3 L1017.1,425.8 L1017.5,411.8 L1017.9,415.6 L1018.3,411.0 L1018.7,407.2 L1019.1,408.2 L1019.5,420.5 L1019.9,415.2 L1020.3,406.4 L1020.7,407.5 L1021.1,428.9 L1021.5,402.8 L1021.9,404.8 L1022.3,403.1 L1022.7,400.6 L1023.1,425.8 L1023.5,406.1 L1023.9,418.5 L1024.3,423.9 L1024.7,426.4 L1025.1,412.0 L1025.5,404.7 L1025.9,423.7 L1026.3,417.0 L1026.7,408.6 L1027.1,409.9 L1027.5,425.9 L1027.9,400.6 L1028.3,404.6 L1028.7,427.6 L1029.1,427.6 L1029.5,397.4 L1029.9,394.1 L1030.3,424.9 L1030.7,421.7 L1031.1,401.0 L1031.5,392.4 L1031.9,386.5 L1032.3,386.1 L1032.7,406.1 L1033.1,416.7 L1033.5,394.7 L1033.9,418.6 L1034.3,390.8 L1034.7,409.2 L1035.1,384.6 L1035.5,384.8 L1035.9,421.7 L1036.3,421.0 L1036.7,408.3 L1037.1,415.4 L1037.5,408.7 L1037.9,409.3 L1038.3,407.4 L1038.7,415.9 L1039.1,405.8 L1039.5,407.2 L1039.9,401.1 L1040.3,417.9 L1040.7,419.6 L1041.1,419.6 L1041.5,418.7 L1041.9,420.3 L1042.3,399.7 L1042.7,420.8 L1043.1,393.7 L1043.5,393.4 L1043.9,407.4 L1044.3,417.0 L1044.7,395.0 L1045.1,425.6 L1045.5,418.2 L1045.9,414.2 L1046.3,425.1 L1046.7,419.6 L1047.1,427.6 L1047.5,427.5 L1047.9,415.1 L1048.3,419.7 L1048.7,404.8 L1049.1,397.0 L1049.5,407.6 L1049.9,394.7 L1050.3,410.9 L1050.7,403.0 L1051.1,394.5 L1051.5,389.9 L1051.9,390.1 L1052.3,416.2 L1052.7,421.7 L1053.1,390.0 L1053.5,398.6 L1053.9,396.9 L1054.3,416.6 L1054.7,422.2 L1055.1,406.7 L1055.5,404.2 L1055.9,389.7 L1056.3,409.2 L1056.7,421.0 L1057.1,413.7 L1057.5,408.9 L1057.9,386.4 L1058.3,397.4 L1058.7,384.1 L1059.1,388.4 L1059.5,420.8 L1059.9,409.7 L1060.3,379.3 L1060.7,374.2 L1061.1,372.4 L1061.5,370.7 L1061.9,420.9 L1062.3,400.5 L1062.7,388.0 L1063.1,367.2 L1063.5,370.0 L1063.9,424.4 L1064.3,365.7 L1064.7,380.4 L1065.1,367.0 L1065.5,416.2 L1065.9,426.7 L1066.3,426.6 L1066.7,426.5 L1067.1,426.5 L1067.5,426.6 L1067.9,407.3 L1068.3,397.5 L1068.7,397.2 L1069.1,408.4 L1069.5,421.5 L1069.9,423.1 L1070.3,422.7 L1070.7,422.2 L1071.1,393.0 L1071.5,421.1 L1071.9,418.9 L1072.3,389.4 L1072.7,419.5 L1073.1,381.9 L1073.5,385.8 L1073.9,395.3 L1074.3,394.4 L1074.7,391.6 L1075.1,361.2 L1075.5,358.0 L1075.9,372.7 L1076.3,418.0 L1076.7,394.6 L1077.1,355.9 L1077.5,352.1 L1077.9,423.8 L1078.3,423.8 L1078.7,354.4 L1079.1,413.1 L1079.5,347.3 L1079.9,346.3 L1080.3,346.6 L1080.7,414.2 L1081.1,359.6 L1081.5,346.0 L1081.9,345.8 L1082.3,353.4 L1082.7,410.7 L1083.1,362.2 L1083.5,368.7 L1083.9,352.5 L1084.3,353.6 L1084.7,380.4 L1085.1,413.8 L1085.5,414.8 L1085.9,358.0 L1086.3,373.7 L1086.7,360.5 L1087.1,364.4 L1087.5,388.4 L1087.9,414.3 L1088.3,415.3 L1088.7,368.3 L1089.1,369.7 L1089.5,371.1 L1089.9,423.2 L1090.3,374.1 L1090.7,423.1 L1091.1,412.4 L1091.5,424.0 L1091.9,376.4 L1092.3,405.1 L1092.7,414.6 L1093.1,404.7 L1093.5,415.6 L1093.9,382.3 L1094.3,423.5 L1094.7,384.7 L1095.1,396.9 L1095.5,423.9 L1095.9,422.4 L1096.3,425.3 L1096.7,415.4 L1097.1,393.3 L1097.5,413.3 L1097.9,421.4 L1098.3,425.7 L1098.7,425.7 L1099.1,425.5 L1099.5,399.8 L1099.9,423.6 L1100.3,413.5 L1100.7,395.3 L1101.1,396.0 L1101.5,418.7 L1101.9,420.7 L1102.3,413.9 L1102.7,408.2 L1103.1,411.3 L1103.5,424.6 L1103.9,427.0 L1104.3,421.2 L1104.7,429.7 L1105.1,425.5 L1105.5,432.3 L1105.9,433.7 L1106.3,434.4 L1106.7,433.3 L1107.1,434.8 L1107.5,415.9 L1107.9,431.7 L1108.3,418.4 L1108.7,415.4 L1109.1,434.1 L1109.5,430.1 L1109.9,411.8 L1110.3,434.8 L1110.7,420.6 L1111.1,434.8 L1111.5,407.0 L1111.9,405.8 L1112.3,404.6 L1112.7,431.7 L1113.1,402.0 L1113.5,434.8 L1113.9,433.7 L1114.3,431.3 L1114.7,421.7 L1115.1,398.3 L1115.5,398.4 L1115.9,393.0 L1116.3,426.1 L1116.7,425.1 L1117.1,386.3 L1117.5,419.6 L1117.9,369.7 L1118.3,376.9 L1118.7,384.0 L1119.1,370.4 L1119.5,333.7 L1119.9,395.7 L1120.3,333.3 L1120.7,397.1 L1121.1,333.8 L1121.5,398.8 L1121.9,333.5 L1122.3,409.6 L1122.7,388.1 L1123.1,355.6 L1123.5,426.9 L1123.9,422.4 L1124.3,384.7 L1124.7,384.2 L1125.1,401.0 L1125.5,389.4 L1125.9,401.9 L1126.3,412.6 L1126.7,408.8 L1127.1,390.3 L1127.5,420.6 L1127.9,377.1 L1128.3,384.4 L1128.7,392.8 L1129.1,380.7 L1129.5,379.9 L1129.9,383.0 L1130.3,396.2 L1130.7,385.1 L1131.1,368.9 L1131.5,361.7 L1131.9,353.0 L1132.3,398.3 L1132.7,350.1 L1133.1,350.8 L1133.5,404.4 L1133.9,382.9 L1134.3,382.4 L1134.7,413.5 L1135.1,386.0 L1135.5,380.2 L1135.9,411.5 L1136.3,386.4 L1136.7,410.7 L1137.1,357.1 L1137.5,363.4 L1137.9,369.2 L1138.3,385.0 L1138.7,361.6 L1139.1,406.2 L1139.5,405.8 L1139.9,359.5 L1140.3,371.9 L1140.7,400.2 L1141.1,406.2 L1141.5,404.9 L1141.9,366.1 L1142.3,409.1 L1142.7,363.4 L1143.1,384.2 L1143.5,362.0 L1143.9,419.0 L1144.3,420.2 L1144.7,421.1 L1145.1,396.6 L1145.5,386.2 L1145.9,369.0 L1146.3,427.4 L1146.7,356.7 L1147.1,416.8 L1147.5,380.2 L1147.9,422.9 L1148.3,411.2 L1148.7,363.9 L1149.1,373.3 L1149.5,369.6 L1149.9,373.2 L1150.3,376.8 L1150.7,433.5 L1151.1,399.3 L1151.5,436.3 L1151.9,409.3 L1152.3,385.9 L1152.7,421.0 L1153.1,434.1 L1153.5,433.4 L1153.9,432.6 L1154.3,432.7 L1154.7,431.9 L1155.1,431.1 L1155.5,395.8 L1155.9,394.7 L1156.3,393.6 L1156.7,402.7 L1157.1,398.8 L1157.5,390.3 L1157.9,415.0 L1158.3,425.8 L1158.7,425.4 L1159.1,424.9 L1159.5,386.1 L1159.9,411.0 L1160.3,421.3 L1160.7,420.9 L1161.1,420.4 L1161.5,401.9 L1161.9,393.7 L1162.3,387.0 L1162.7,419.1 L1163.1,389.3 L1163.5,404.7 L1163.9,409.4 L1164.3,402.0 L1164.7,396.6" fill="none" stroke="#ff0000" stroke-width="2.5" stroke-linejoin="round" stroke-linecap="round"/>
<path d="M198.6,431.3 L199.0,384.6 L199.4,380.3 L199.8,421.3 L200.2,383.3 L200.6,408.7 L201.0,403.7 L201.4,387.0 L201.8,391.6 L202.2,359.3 L202.6,374.3 L203.0,368.9 L203.4,371.8 L203.8,385.5 L204.2,384.7 L204.6,362.4 L205.0,348.7 L205.4,375.9 L205.8,342.8 L206.2,342.0 L206.6,379.2 L207.0,361.2 L207.4,382.3 L207.8,343.1 L208.2,382.5 L208.6,346.5 L209.0,348.7 L209.4,350.4 L209.8,357.8 L210.2,390.9 L210.6,380.3 L211.0,369.9 L211.4,390.2 L211.8,398.1 L212.2,390.3 L212.6,394.0 L213.0,402.1 L213.4,398.0 L213.8,357.3 L214.2,357.3 L214.6,409.8 L215.0,357.3 L215.4,409.9 L215.8,405.6 L216.2,408.7 L216.6,408.7 L217.0,380.7 L217.4,350.4 L217.8,371.8 L218.2,406.0 L218.6,332.8 L219.0,327.6 L219.4,356.5 L219.8,329.3 L220.2,328.9 L220.6,337.5 L221.0,386.1 L221.4,337.7 L221.8,331.2 L222.2,344.1 L222.6,368.4 L223.0,348.3 L223.4,375.2 L223.8,404.0 L224.2,405.1 L224.6,405.2 L225.0,375.5 L225.4,372.0 L225.8,364.0 L226.2,404.6 L226.6,372.6 L227.0,381.3 L227.4,397.8 L227.8,357.0 L228.2,387.7 L228.6,380.6 L229.0,351.2 L229.4,374.9 L229.8,401.3 L230.2,346.3 L230.6,390.7 L231.0,382.8 L231.4,384.8 L231.8,382.9 L232.2,385.7 L232.6,366.2 L233.0,381.3 L233.4,353.4 L233.8,375.0 L234.2,336.3 L234.6,348.0 L235.0,374.9 L235.4,374.7 L235.8,345.2 L236.2,293.6 L236.6,272.9 L237.0,254.6 L237.4,313.0 L237.8,252.3 L238.2,346.3 L238.6,252.3 L239.0,307.0 L239.4,252.3 L239.8,325.0 L240.2,250.8 L240.6,383.7 L241.0,250.8 L241.4,308.7 L241.8,396.5 L242.2,396.3 L242.6,326.3 L243.0,332.8 L243.4,380.5 L243.8,385.0 L244.2,361.1 L244.6,343.9 L245.0,361.8 L245.4,406.4 L245.8,409.0 L246.2,383.2 L246.6,357.9 L247.0,361.5 L247.4,354.4 L247.8,418.6 L248.2,424.4 L248.6,400.9 L249.0,415.6 L249.4,423.3 L249.8,409.2 L250.2,404.6 L250.6,426.6 L251.0,375.7 L251.4,406.6 L251.8,351.2 L252.2,418.1 L252.6,349.9 L253.0,379.5 L253.4,386.4 L253.8,328.5 L254.2,329.6 L254.6,386.7 L255.0,363.0 L255.4,325.4 L255.8,326.5 L256.2,328.9 L256.6,361.6 L257.0,355.6 L257.4,412.8 L257.8,407.1 L258.2,371.0 L258.6,338.1 L259.0,365.9 L259.4,406.7 L259.8,381.5 L260.2,415.6 L260.6,416.6 L261.0,417.5 L261.4,395.1 L261.8,420.9 L262.2,421.4 L262.6,367.5 L263.0,421.5 L263.4,374.3 L263.8,379.6 L264.2,416.1 L264.6,418.4 L265.0,413.2 L265.4,417.8 L265.8,417.6 L266.2,385.7 L266.6,404.1 L267.0,414.8 L267.4,386.6 L267.8,414.1 L268.2,397.8 L268.6,409.2 L269.0,405.5 L269.4,417.4 L269.8,413.6 L270.2,401.0 L270.6,383.5 L271.0,382.5 L271.4,417.0 L271.8,416.9 L272.2,416.9 L272.6,418.0 L273.0,418.0 L273.4,393.0 L273.8,377.3 L274.2,417.9 L274.6,380.9 L275.0,383.3 L275.4,381.9 L275.8,381.6 L276.2,387.8 L276.6,398.9 L277.0,380.1 L277.4,380.7 L277.8,398.7 L278.2,413.3 L278.6,409.3 L279.0,381.2 L279.4,403.9 L279.8,412.3 L280.2,409.7 L280.6,406.1 L281.0,390.1 L281.4,399.1 L281.8,378.4 L282.2,399.9 L282.6,409.9 L283.0,407.1 L283.4,409.1 L283.8,408.7 L284.2,401.7 L284.6,357.6 L285.0,410.3 L285.4,401.4 L285.8,347.0 L286.2,402.6 L286.6,400.0 L287.0,397.5 L287.4,394.9 L287.8,374.8 L288.2,371.2 L288.6,333.3 L289.0,381.6 L289.4,353.5 L289.8,378.5 L290.2,338.6 L290.6,376.5 L291.0,375.6 L291.4,370.8 L291.8,338.7 L292.2,300.6 L292.6,375.8 L293.0,300.4 L293.4,378.7 L293.8,344.2 L294.2,381.4 L294.6,382.9 L295.0,384.4 L295.4,385.8 L295.8,340.5 L296.2,344.2 L296.6,389.7 L297.0,360.2 L297.4,369.2 L297.8,371.6 L298.2,386.8 L298.6,395.0 L299.0,348.7 L299.4,383.1 L299.8,354.8 L300.2,372.2 L300.6,353.2 L301.0,345.4 L301.4,355.8 L301.8,350.0 L302.2,401.1 L302.6,336.7 L303.0,335.8 L303.4,375.2 L303.8,345.4 L304.2,401.5 L304.6,371.7 L305.0,315.1 L305.4,312.1 L305.8,332.5 L306.2,403.3 L306.6,345.9 L307.0,332.8 L307.4,366.7 L307.8,332.5 L308.2,395.7 L308.6,405.7 L309.0,406.1 L309.4,406.5 L309.8,392.5 L310.2,407.0 L310.6,407.4 L311.0,396.2 L311.4,382.6 L311.8,374.9 L312.2,396.3 L312.6,395.3 L313.0,408.9 L313.4,409.1 L313.8,373.1 L314.2,398.7 L314.6,401.9 L315.0,383.9 L315.4,393.5 L315.8,407.9 L316.2,397.7 L316.6,389.6 L317.0,381.3 L317.4,398.2 L317.8,372.4 L318.2,410.6 L318.6,353.7 L319.0,355.2 L319.4,390.2 L319.8,407.7 L320.2,368.3 L320.6,375.7 L321.0,401.0 L321.4,363.7 L321.8,374.4 L322.2,377.9 L322.6,271.1 L323.0,383.3 L323.4,250.8 L323.8,314.3 L324.2,252.3 L324.6,345.5 L325.0,251.5 L325.4,400.3 L325.8,251.5 L326.2,399.0 L326.6,250.8 L327.0,250.8 L327.4,266.1 L327.8,371.1 L328.2,410.8 L328.6,413.7 L329.0,414.4 L329.4,400.1 L329.8,409.5 L330.2,398.5 L330.6,407.6 L331.0,412.7 L331.4,390.8 L331.8,397.2 L332.2,402.6 L332.6,381.6 L333.0,360.9 L333.4,409.2 L333.8,411.4 L334.2,411.3 L334.6,402.6 L335.0,334.3 L335.4,413.3 L335.8,395.7 L336.2,377.4 L336.6,341.7 L337.0,369.4 L337.4,354.8 L337.8,382.7 L338.2,403.2 L338.6,398.4 L339.0,404.7 L339.4,383.8 L339.8,414.0 L340.2,391.8 L340.6,383.3 L341.0,387.8 L341.4,383.3 L341.8,383.2 L342.2,384.8 L342.6,380.0 L343.0,379.9 L343.4,392.6 L343.8,421.9 L344.2,422.5 L344.6,405.2 L345.0,423.4 L345.4,403.5 L345.8,398.0 L346.2,421.3 L346.6,395.1 L347.0,351.6 L347.4,359.2 L347.8,339.6 L348.2,405.1 L348.6,345.1 L349.0,379.8 L349.4,421.9 L349.8,334.2 L350.2,322.4 L350.6,319.4 L351.0,317.5 L351.4,315.5 L351.8,361.5 L352.2,318.9 L352.6,309.7 L353.0,307.8 L353.4,384.7 L353.8,306.5 L354.2,325.8 L354.6,383.3 L355.0,304.3 L355.4,423.4 L355.8,423.2 L356.2,398.1 L356.6,386.4 L357.0,423.4 L357.4,423.4 L357.8,423.4 L358.2,416.5 L358.6,398.9 L359.0,378.3 L359.4,332.4 L359.8,311.5 L360.2,312.4 L360.6,315.0 L361.0,415.5 L361.4,412.2 L361.8,318.1 L362.2,413.5 L362.6,412.9 L363.0,341.9 L363.4,412.0 L363.8,411.3 L364.2,410.9 L364.6,363.7 L365.0,399.0 L365.4,401.9 L365.8,395.4 L366.2,392.6 L366.6,408.3 L367.0,358.4 L367.4,358.3 L367.8,357.6 L368.2,357.8 L368.6,359.2 L369.0,391.8 L369.4,395.4 L369.8,389.8 L370.2,365.8 L370.6,370.0 L371.0,411.0 L371.4,411.4 L371.8,399.9 L372.2,385.5 L372.6,412.7 L373.0,387.1 L373.4,409.8 L373.8,413.9 L374.2,398.1 L374.6,412.4 L375.0,384.1 L375.4,413.3 L375.8,408.0 L376.2,388.2 L376.6,410.8 L377.0,389.2 L377.4,417.2 L377.8,394.9 L378.2,399.0 L378.6,408.8 L379.0,397.8 L379.4,408.3 L379.8,390.8 L380.2,415.2 L380.6,404.5 L381.0,406.7 L381.4,419.6 L381.8,419.7 L382.2,405.1 L382.6,369.7 L383.0,385.2 L383.4,405.5 L383.8,415.6 L384.2,360.1 L384.6,414.8 L385.0,390.6 L385.4,412.5 L385.8,397.3 L386.2,411.3 L386.6,375.2 L387.0,352.1 L387.4,410.5 L387.8,409.6 L388.2,408.2 L388.6,406.8 L389.0,366.4 L389.4,346.4 L389.8,343.9 L390.2,341.4 L390.6,338.9 L391.0,385.4 L391.4,385.6 L391.8,358.8 L392.2,372.7 L392.6,359.4 L393.0,375.3 L393.4,402.4 L393.8,402.6 L394.2,338.0 L394.6,321.2 L395.0,405.7 L395.4,385.1 L395.8,407.8 L396.2,325.3 L396.6,337.6 L397.0,370.8 L397.4,337.0 L397.8,337.3 L398.2,419.6 L398.6,419.7 L399.0,417.1 L399.4,367.8 L399.8,357.0 L400.2,395.4 L400.6,415.2 L401.0,401.4 L401.4,353.2 L401.8,352.9 L402.2,411.4 L402.6,410.9 L403.0,373.1 L403.4,396.7 L403.8,415.5 L404.2,375.2 L404.6,363.5 L405.0,390.4 L405.4,406.6 L405.8,397.3 L406.2,415.1 L406.6,380.2 L407.0,387.4 L407.4,380.7 L407.8,405.7 L408.2,412.4 L408.6,391.0 L409.0,411.3 L409.4,410.8 L409.8,410.2 L410.2,406.8 L410.6,406.7 L411.0,386.5 L411.4,374.4 L411.8,341.1 L412.2,386.2 L412.6,410.9 L413.0,411.2 L413.4,403.8 L413.8,335.0 L414.2,373.8 L414.6,339.7 L415.0,413.0 L415.4,366.7 L415.8,345.9 L416.2,350.3 L416.6,354.7 L417.0,412.7 L417.4,417.0 L417.8,365.6 L418.2,417.2 L418.6,419.4 L419.0,387.2 L419.4,374.8 L419.8,374.9 L420.2,375.1 L420.6,404.8 L421.0,421.5 L421.4,368.6 L421.8,391.7 L422.2,365.8 L422.6,413.6 L423.0,359.2 L423.4,356.2 L423.8,353.2 L424.2,351.2 L424.6,413.8 L425.0,417.5 L425.4,348.4 L425.8,389.6 L426.2,351.7 L426.6,352.4 L427.0,353.7 L427.4,352.6 L427.8,396.9 L428.2,357.0 L428.6,354.5 L429.0,356.1 L429.4,356.7 L429.8,395.4 L430.2,419.5 L430.6,408.3 L431.0,359.3 L431.4,360.5 L431.8,377.2 L432.2,421.5 L432.6,413.4 L433.0,423.4 L433.4,423.2 L433.8,423.1 L434.2,388.1 L434.6,421.1 L435.0,420.4 L435.4,359.1 L435.8,360.9 L436.2,355.4 L436.6,368.7 L437.0,406.5 L437.4,349.8 L437.8,352.4 L438.2,415.8 L438.6,407.9 L439.0,348.5 L439.4,349.2 L439.8,413.1 L440.2,412.7 L440.6,412.5 L441.0,395.6 L441.4,397.4 L441.8,382.1 L442.2,410.6 L442.6,410.3 L443.0,397.7 L443.4,361.7 L443.8,401.5 L444.2,373.9 L444.6,404.0 L445.0,398.8 L445.4,411.4 L445.8,412.0 L446.2,380.7 L446.6,398.5 L447.0,414.9 L447.4,379.5 L447.8,402.5 L448.2,416.6 L448.6,418.3 L449.0,354.5 L449.4,353.9 L449.8,354.5 L450.2,385.9 L450.6,419.7 L451.0,419.6 L451.4,380.1 L451.8,418.0 L452.2,417.1 L452.6,373.6 L453.0,376.2 L453.4,397.3 L453.8,386.1 L454.2,391.9 L454.6,405.4 L455.0,379.7 L455.4,402.1 L455.8,382.7 L456.2,380.4 L456.6,400.7 L457.0,382.4 L457.4,395.9 L457.8,404.3 L458.2,397.1 L458.6,389.0 L459.0,400.2 L459.4,384.9 L459.8,399.1 L460.2,373.0 L460.6,392.6 L461.0,377.2 L461.4,369.8 L461.8,397.1 L462.2,373.4 L462.6,397.3 L463.0,397.3 L463.4,397.3 L463.8,361.9 L464.2,397.1 L464.6,399.5 L465.0,382.9 L465.4,370.9 L465.8,399.9 L466.2,399.9 L466.6,356.3 L467.0,330.3 L467.4,375.9 L467.8,378.9 L468.2,372.9 L468.6,323.2 L469.0,334.3 L469.4,375.2 L469.8,389.5 L470.2,328.8 L470.6,386.5 L471.0,385.1 L471.4,331.7 L471.8,333.6 L472.2,335.4 L472.6,338.3 L473.0,368.9 L473.4,342.0 L473.8,376.0 L474.2,397.9 L474.6,347.8 L475.0,357.2 L475.4,353.8 L475.8,394.9 L476.2,362.9 L476.6,371.3 L477.0,408.9 L477.4,408.8 L477.8,382.1 L478.2,386.9 L478.6,369.5 L479.0,386.5 L479.4,361.1 L479.8,378.5 L480.2,359.0 L480.6,358.1 L481.0,402.7 L481.4,392.6 L481.8,350.3 L482.2,377.9 L482.6,343.6 L483.0,340.3 L483.4,336.9 L483.8,390.5 L484.2,387.5 L484.6,364.3 L485.0,323.6 L485.4,320.3 L485.8,393.1 L486.2,377.4 L486.6,312.9 L487.0,312.0 L487.4,311.0 L487.8,385.0 L488.2,310.7 L488.6,335.8 L489.0,356.3 L489.4,341.3 L489.8,307.2 L490.2,307.6 L490.6,306.9 L491.0,383.3 L491.4,322.2 L491.8,380.9 L492.2,317.0 L492.6,326.2 L493.0,357.5 L493.4,379.4 L493.8,324.0 L494.2,367.8 L494.6,369.4 L495.0,323.9 L495.4,361.6 L495.8,307.7 L496.2,301.3 L496.6,327.0 L497.0,288.4 L497.4,288.6 L497.8,275.6 L498.2,341.3 L498.6,275.3 L499.0,361.6 L499.4,275.0 L499.8,325.8 L500.2,270.8 L500.6,361.5 L501.0,394.5 L501.4,374.3 L501.8,390.4 L502.2,359.3 L502.6,391.2 L503.0,337.6 L503.4,327.6 L503.8,335.4 L504.2,390.6 L504.6,355.2 L505.0,357.2 L505.4,362.8 L505.8,360.4 L506.2,354.3 L506.6,355.5 L507.0,331.9 L507.4,329.4 L507.8,323.5 L508.2,394.5 L508.6,348.6 L509.0,323.2 L509.4,363.4 L509.8,376.1 L510.2,323.7 L510.6,324.3 L511.0,325.5 L511.4,385.4 L511.8,327.9 L512.2,328.9 L512.6,341.3 L513.0,345.0 L513.4,393.4 L513.8,355.1 L514.2,396.6 L514.6,336.1 L515.0,337.3 L515.4,399.4 L515.8,395.1 L516.2,401.6 L516.6,386.7 L517.0,392.0 L517.4,351.8 L517.8,395.2 L518.2,366.7 L518.6,393.7 L519.0,382.3 L519.4,355.5 L519.8,353.1 L520.2,386.1 L520.6,368.8 L521.0,356.0 L521.4,370.3 L521.8,352.9 L522.2,343.3 L522.6,363.5 L523.0,368.4 L523.4,390.3 L523.8,376.0 L524.2,392.5 L524.6,393.7 L525.0,329.0 L525.4,395.9 L525.8,377.7 L526.2,373.5 L526.6,361.0 L527.0,330.9 L527.4,356.1 L527.8,399.8 L528.2,399.9 L528.6,398.0 L529.0,355.5 L529.4,333.6 L529.8,347.9 L530.2,345.7 L530.6,335.0 L531.0,337.6 L531.4,340.3 L531.8,375.2 L532.2,372.3 L532.6,399.9 L533.0,390.1 L533.4,372.3 L533.8,403.8 L534.2,392.4 L534.6,386.4 L535.0,359.1 L535.4,339.7 L535.8,418.5 L536.2,420.8 L536.6,423.1 L537.0,383.2 L537.4,333.1 L537.8,424.3 L538.2,423.8 L538.6,333.7 L539.0,400.8 L539.4,423.5 L539.8,420.8 L540.2,354.3 L540.6,419.6 L541.0,364.3 L541.4,356.8 L541.8,358.3 L542.2,419.2 L542.6,418.6 L543.0,375.8 L543.4,348.7 L543.8,358.6 L544.2,412.3 L544.6,409.9 L545.0,363.6 L545.4,336.7 L545.8,333.5 L546.2,398.9 L546.6,396.5 L547.0,370.1 L547.4,333.8 L547.8,328.6 L548.2,329.5 L548.6,378.8 L549.0,330.2 L549.4,389.4 L549.8,332.7 L550.2,334.1 L550.6,364.5 L551.0,332.7 L551.4,387.7 L551.8,366.8 L552.2,322.5 L552.6,376.2 L553.0,395.6 L553.4,312.9 L553.8,400.4 L554.2,406.9 L554.6,307.9 L555.0,310.0 L555.4,313.6 L555.8,324.6 L556.2,415.1 L556.6,321.1 L557.0,326.4 L557.4,327.7 L557.8,421.4 L558.2,410.8 L558.6,347.6 L559.0,351.8 L559.4,402.5 L559.8,420.0 L560.2,419.5 L560.6,384.4 L561.0,354.3 L561.4,352.5 L561.8,348.4 L562.2,382.1 L562.6,379.8 L563.0,415.6 L563.4,406.8 L563.8,339.0 L564.2,405.7 L564.6,401.7 L565.0,381.4 L565.4,336.5 L565.8,330.2 L566.2,328.4 L566.6,394.3 L567.0,329.2 L567.4,323.1 L567.8,363.8 L568.2,385.8 L568.6,413.1 L569.0,321.2 L569.4,419.8 L569.8,329.9 L570.2,419.3 L570.6,323.1 L571.0,405.6 L571.4,391.2 L571.8,392.3 L572.2,417.8 L572.6,386.6 L573.0,417.0 L573.4,416.6 L573.8,395.5 L574.2,354.3 L574.6,340.7 L575.0,342.8 L575.4,360.2 L575.8,372.3 L576.2,409.1 L576.6,407.7 L577.0,406.2 L577.4,337.1 L577.8,331.4 L578.2,331.5 L578.6,369.6 L579.0,331.7 L579.4,397.0 L579.8,353.2 L580.2,394.0 L580.6,335.9 L581.0,350.3 L581.4,374.4 L581.8,374.4 L582.2,389.2 L582.6,382.9 L583.0,374.6 L583.4,319.6 L583.8,314.8 L584.2,310.0 L584.6,364.0 L585.0,375.6 L585.4,347.9 L585.8,306.6 L586.2,305.7 L586.6,401.2 L587.0,401.4 L587.4,401.8 L587.8,401.7 L588.2,319.3 L588.6,322.7 L589.0,326.1 L589.4,329.5 L589.8,332.9 L590.2,366.8 L590.6,388.4 L591.0,362.6 L591.4,364.4 L591.8,371.6 L592.2,365.2 L592.6,386.7 L593.0,387.9 L593.4,339.3 L593.8,366.5 L594.2,354.9 L594.6,334.7 L595.0,334.8 L595.4,335.2 L595.8,335.1 L596.2,368.0 L596.6,377.3 L597.0,375.6 L597.4,339.5 L597.8,340.3 L598.2,401.7 L598.6,334.9 L599.0,328.9 L599.4,386.4 L599.8,393.9 L600.2,362.1 L600.6,385.7 L601.0,312.7 L601.4,342.8 L601.8,346.3 L602.2,383.8 L602.6,345.5 L603.0,331.6 L603.4,328.7 L603.8,286.6 L604.2,396.8 L604.6,396.4 L605.0,385.4 L605.4,395.6 L605.8,395.2 L606.2,275.7 L606.6,371.2 L607.0,393.7 L607.4,274.7 L607.8,392.5 L608.2,391.2 L608.6,275.7 L609.0,282.0 L609.4,344.5 L609.8,371.5 L610.2,299.3 L610.6,315.8 L611.0,324.0 L611.4,349.8 L611.8,369.1 L612.2,346.0 L612.6,322.7 L613.0,387.1 L613.4,388.2 L613.8,369.3 L614.2,386.6 L614.6,383.8 L615.0,388.7 L615.4,385.1 L615.8,331.0 L616.2,379.4 L616.6,393.0 L617.0,332.2 L617.4,398.1 L617.8,398.3 L618.2,398.5 L618.6,398.7 L619.0,398.9 L619.4,364.4 L619.8,343.5 L620.2,338.6 L620.6,367.7 L621.0,369.2 L621.4,394.6 L621.8,344.6 L622.2,398.2 L622.6,398.4 L623.0,391.8 L623.4,399.6 L623.8,395.9 L624.2,388.2 L624.6,368.4 L625.0,366.0 L625.4,337.2 L625.8,370.0 L626.2,367.3 L626.6,381.0 L627.0,326.6 L627.4,358.0 L627.8,365.1 L628.2,394.1 L628.6,320.8 L629.0,320.4 L629.4,404.7 L629.8,402.1 L630.2,351.3 L630.6,333.9 L631.0,345.0 L631.4,400.3 L631.8,405.2 L632.2,368.6 L632.6,331.7 L633.0,379.3 L633.4,379.2 L633.8,326.6 L634.2,327.1 L634.6,351.6 L635.0,391.3 L635.4,343.2 L635.8,351.6 L636.2,381.6 L636.6,349.5 L637.0,368.6 L637.4,381.1 L637.8,367.8 L638.2,339.2 L638.6,356.7 L639.0,350.7 L639.4,372.9 L639.8,333.3 L640.2,389.1 L640.6,329.8 L641.0,340.2 L641.4,355.8 L641.8,388.8 L642.2,339.1 L642.6,376.4 L643.0,333.7 L643.4,383.4 L643.8,388.1 L644.2,351.3 L644.6,371.7 L645.0,303.9 L645.4,383.3 L645.8,381.1 L646.2,354.5 L646.6,301.2 L647.0,343.9 L647.4,369.6 L647.8,369.7 L648.2,370.0 L648.6,278.2 L649.0,273.8 L649.4,370.8 L649.8,265.0 L650.2,371.3 L650.6,371.6 L651.0,372.0 L651.4,242.6 L651.8,260.7 L652.2,241.5 L652.6,337.6 L653.0,241.6 L653.4,314.3 L653.8,241.6 L654.2,316.9 L654.6,321.1 L655.0,241.0 L655.4,377.0 L655.8,375.8 L656.2,343.8 L656.6,343.4 L657.0,283.2 L657.4,290.8 L657.8,298.4 L658.2,312.7 L658.6,381.8 L659.0,383.4 L659.4,362.5 L659.8,342.9 L660.2,388.2 L660.6,388.2 L661.0,336.5 L661.4,360.0 L661.8,391.4 L662.2,394.6 L662.6,399.4 L663.0,401.0 L663.4,384.7 L663.8,174.8 L664.2,228.8 L664.6,151.6 L665.0,131.0 L665.4,324.8 L665.8,131.0 L666.2,295.3 L666.6,132.8 L667.0,395.9 L667.4,132.8 L667.8,374.4 L668.2,132.8 L668.6,387.3 L669.0,132.8 L669.4,285.4 L669.8,132.8 L670.2,203.7 L670.6,313.8 L671.0,131.0 L671.4,277.4 L671.8,155.0 L672.2,166.7 L672.6,171.5 L673.0,364.3 L673.4,139.0 L673.8,368.3 L674.2,337.5 L674.6,138.3 L675.0,272.4 L675.4,138.3 L675.8,323.4 L676.2,138.3 L676.6,299.6 L677.0,138.3 L677.4,283.6 L677.8,138.3 L678.2,328.4 L678.6,136.8 L679.0,280.9 L679.4,136.8 L679.8,277.5 L680.2,325.7 L680.6,143.5 L681.0,348.3 L681.4,397.1 L681.8,254.1 L682.2,413.8 L682.6,355.7 L683.0,381.0 L683.4,270.4 L683.8,278.0 L684.2,285.6 L684.6,293.2 L685.0,310.3 L685.4,303.4 L685.8,316.5 L686.2,291.4 L686.6,288.2 L687.0,286.6 L687.4,281.0 L687.8,331.2 L688.2,281.9 L688.6,355.8 L689.0,283.8 L689.4,326.9 L689.8,283.8 L690.2,341.8 L690.6,283.8 L691.0,345.4 L691.4,283.8 L691.8,376.2 L692.2,363.4 L692.6,365.6 L693.0,281.0 L693.4,304.6 L693.8,389.7 L694.2,385.0 L694.6,346.6 L695.0,380.8 L695.4,389.3 L695.8,388.7 L696.2,394.2 L696.6,369.0 L697.0,387.7 L697.4,396.4 L697.8,345.6 L698.2,398.8 L698.6,345.6 L699.0,345.8 L699.4,384.2 L699.8,346.2 L700.2,364.1 L700.6,346.7 L701.0,366.9 L701.4,345.9 L701.8,405.2 L702.2,346.3 L702.6,383.9 L703.0,370.9 L703.4,380.1 L703.8,378.0 L704.2,383.8 L704.6,358.0 L705.0,359.4 L705.4,367.3 L705.8,362.0 L706.2,363.6 L706.6,389.5 L707.0,359.7 L707.4,358.6 L707.8,357.6 L708.2,356.5 L708.6,381.1 L709.0,374.4 L709.4,353.3 L709.8,352.8 L710.2,392.2 L710.6,356.4 L711.0,348.3 L711.4,383.7 L711.8,349.3 L712.2,349.2 L712.6,366.1 L713.0,385.0 L713.4,399.0 L713.8,399.2 L714.2,399.4 L714.6,374.4 L715.0,371.5 L715.4,399.3 L715.8,371.3 L716.2,400.5 L716.6,357.5 L717.0,392.4 L717.4,380.0 L717.8,359.9 L718.2,399.2 L718.6,395.7 L719.0,387.5 L719.4,366.4 L719.8,369.2 L720.2,402.2 L720.6,373.9 L721.0,369.5 L721.4,368.8 L721.8,366.8 L722.2,371.9 L722.6,368.6 L723.0,356.8 L723.4,354.5 L723.8,408.2 L724.2,350.0 L724.6,408.6 L725.0,370.2 L725.4,347.0 L725.8,401.6 L726.2,345.3 L726.6,346.7 L727.0,399.3 L727.4,346.3 L727.8,346.5 L728.2,410.1 L728.6,380.4 L729.0,356.7 L729.4,394.7 L729.8,410.8 L730.2,395.6 L730.6,369.5 L731.0,374.3 L731.4,402.6 L731.8,414.3 L732.2,415.6 L732.6,402.1 L733.0,385.8 L733.4,395.7 L733.8,418.2 L734.2,379.3 L734.6,419.5 L735.0,378.3 L735.4,409.2 L735.8,382.9 L736.2,408.5 L736.6,422.4 L737.0,422.3 L737.4,404.2 L737.8,406.2 L738.2,419.1 L738.6,376.0 L739.0,375.8 L739.4,375.5 L739.8,418.3 L740.2,404.1 L740.6,391.4 L741.0,374.3 L741.4,409.4 L741.8,379.9 L742.2,410.3 L742.6,409.7 L743.0,393.6 L743.4,407.6 L743.8,352.6 L744.2,358.6 L744.6,348.9 L745.0,342.8 L745.4,362.1 L745.8,363.5 L746.2,399.2 L746.6,336.0 L747.0,333.0 L747.4,331.3 L747.8,332.3 L748.2,378.4 L748.6,387.6 L749.0,373.1 L749.4,343.4 L749.8,325.8 L750.2,378.3 L750.6,327.2 L751.0,334.0 L751.4,326.8 L751.8,327.8 L752.2,365.6 L752.6,376.9 L753.0,383.9 L753.4,419.7 L753.8,378.4 L754.2,334.1 L754.6,387.6 L755.0,413.0 L755.4,413.0 L755.8,411.7 L756.2,356.9 L756.6,356.6 L757.0,351.8 L757.4,386.2 L757.8,405.2 L758.2,404.2 L758.6,365.0 L759.0,365.4 L759.4,365.8 L759.8,391.4 L760.2,388.9 L760.6,394.4 L761.0,403.3 L761.4,378.1 L761.8,371.2 L762.2,404.5 L762.6,403.8 L763.0,375.2 L763.4,372.8 L763.8,373.2 L764.2,373.6 L764.6,379.6 L765.0,391.3 L765.4,407.8 L765.8,393.9 L766.2,409.0 L766.6,379.0 L767.0,407.8 L767.4,376.3 L767.8,391.9 L768.2,394.8 L768.6,405.5 L769.0,388.9 L769.4,402.8 L769.8,407.8 L770.2,396.4 L770.6,386.0 L771.0,389.6 L771.4,379.0 L771.8,386.3 L772.2,386.7 L772.6,398.0 L773.0,410.1 L773.4,411.3 L773.8,394.2 L774.2,410.0 L774.6,408.1 L775.0,375.3 L775.4,393.6 L775.8,405.6 L776.2,387.9 L776.6,378.5 L777.0,420.3 L777.4,423.0 L777.8,423.5 L778.2,422.1 L778.6,426.0 L779.0,390.0 L779.4,368.7 L779.8,406.9 L780.2,403.9 L780.6,367.9 L781.0,352.2 L781.4,422.8 L781.8,345.1 L782.2,421.4 L782.6,420.6 L783.0,419.8 L783.4,369.5 L783.8,376.3 L784.2,348.9 L784.6,380.0 L785.0,364.5 L785.4,330.2 L785.8,414.3 L786.2,336.0 L786.6,332.8 L787.0,393.3 L787.4,340.8 L787.8,336.2 L788.2,381.0 L788.6,321.2 L789.0,321.2 L789.4,343.5 L789.8,348.5 L790.2,401.9 L790.6,323.1 L791.0,401.5 L791.4,330.4 L791.8,338.7 L792.2,342.3 L792.6,375.9 L793.0,405.2 L793.4,405.6 L793.8,353.2 L794.2,406.4 L794.6,406.8 L795.0,407.2 L795.4,372.8 L795.8,408.2 L796.2,394.8 L796.6,399.0 L797.0,387.5 L797.4,408.7 L797.8,408.7 L798.2,406.6 L798.6,393.6 L799.0,371.7 L799.4,405.4 L799.8,376.3 L800.2,400.6 L800.6,375.0 L801.0,393.2 L801.4,396.3 L801.8,396.3 L802.2,393.9 L802.6,383.5 L803.0,378.8 L803.4,378.2 L803.8,389.3 L804.2,383.4 L804.6,373.5 L805.0,387.9 L805.4,371.7 L805.8,372.3 L806.2,371.1 L806.6,389.0 L807.0,388.7 L807.4,380.0 L807.8,359.7 L808.2,374.0 L808.6,374.6 L809.0,379.1 L809.4,383.6 L809.8,364.0 L810.2,384.5 L810.6,383.6 L811.0,373.3 L811.4,347.0 L811.8,333.3 L812.2,374.4 L812.6,313.6 L813.0,328.0 L813.4,311.5 L813.8,308.0 L814.2,308.9 L814.6,337.4 L815.0,346.9 L815.4,381.7 L815.8,311.6 L816.2,336.7 L816.6,363.7 L817.0,389.1 L817.4,333.5 L817.8,383.7 L818.2,378.8 L818.6,390.9 L819.0,390.9 L819.4,390.9 L819.8,390.9 L820.2,384.1 L820.6,363.6 L821.0,361.9 L821.4,351.0 L821.8,365.6 L822.2,349.0 L822.6,357.0 L823.0,379.8 L823.4,390.9 L823.8,366.6 L824.2,390.9 L824.6,358.7 L825.0,364.0 L825.4,346.3 L825.8,347.8 L826.2,347.7 L826.6,392.4 L827.0,392.8 L827.4,347.3 L827.8,381.8 L828.2,387.8 L828.6,368.7 L829.0,372.9 L829.4,361.3 L829.8,344.8 L830.2,344.7 L830.6,355.4 L831.0,394.5 L831.4,395.0 L831.8,376.5 L832.2,353.9 L832.6,367.3 L833.0,398.2 L833.4,398.2 L833.8,372.0 L834.2,388.0 L834.6,379.8 L835.0,391.5 L835.4,373.9 L835.8,360.7 L836.2,373.3 L836.6,395.2 L837.0,356.0 L837.4,368.6 L837.8,396.5 L838.2,371.5 L838.6,354.1 L839.0,398.2 L839.4,396.8 L839.8,397.0 L840.2,356.6 L840.6,398.3 L841.0,354.8 L841.4,355.2 L841.8,394.0 L842.2,399.1 L842.6,360.5 L843.0,356.8 L843.4,381.5 L843.8,357.6 L844.2,387.4 L844.6,396.3 L845.0,371.7 L845.4,392.4 L845.8,399.9 L846.2,392.9 L846.6,396.4 L847.0,400.7 L847.4,377.4 L847.8,357.5 L848.2,358.9 L848.6,402.0 L849.0,375.7 L849.4,394.9 L849.8,391.6 L850.2,390.8 L850.6,405.7 L851.0,396.8 L851.4,406.2 L851.8,408.7 L852.2,408.9 L852.6,390.6 L853.0,404.9 L853.4,404.4 L853.8,372.2 L854.2,386.9 L854.6,378.4 L855.0,377.8 L855.4,394.9 L855.8,363.3 L856.2,352.8 L856.6,351.3 L857.0,349.9 L857.4,348.4 L857.8,364.5 L858.2,380.1 L858.6,385.3 L859.0,382.5 L859.4,379.9 L859.8,348.8 L860.2,376.4 L860.6,383.3 L861.0,384.1 L861.4,339.7 L861.8,380.6 L862.2,381.8 L862.6,381.3 L863.0,344.7 L863.4,351.5 L863.8,374.1 L864.2,376.4 L864.6,347.0 L865.0,341.9 L865.4,385.2 L865.8,335.8 L866.2,389.1 L866.6,375.6 L867.0,379.7 L867.4,332.4 L867.8,333.0 L868.2,390.2 L868.6,333.3 L869.0,401.2 L869.4,337.2 L869.8,340.6 L870.2,367.5 L870.6,397.1 L871.0,412.7 L871.4,375.8 L871.8,375.1 L872.2,373.2 L872.6,356.6 L873.0,348.4 L873.4,422.5 L873.8,408.3 L874.2,398.0 L874.6,362.9 L875.0,396.0 L875.4,393.5 L875.8,392.2 L876.2,420.3 L876.6,375.2 L877.0,400.3 L877.4,383.0 L877.8,392.8 L878.2,420.6 L878.6,391.4 L879.0,403.4 L879.4,394.6 L879.8,420.7 L880.2,387.8 L880.6,386.7 L881.0,408.9 L881.4,396.9 L881.8,395.6 L882.2,426.6 L882.6,386.4 L883.0,382.8 L883.4,405.7 L883.8,418.2 L884.2,397.1 L884.6,428.6 L885.0,429.1 L885.4,414.2 L885.8,429.4 L886.2,396.1 L886.6,430.4 L887.0,400.0 L887.4,432.4 L887.8,380.4 L888.2,334.1 L888.6,305.7 L889.0,288.5 L889.4,427.5 L889.8,287.1 L890.2,371.8 L890.6,287.1 L891.0,348.3 L891.4,287.1 L891.8,380.7 L892.2,287.1 L892.6,372.2 L893.0,293.9 L893.4,313.3 L893.8,326.1 L894.2,353.3 L894.6,362.8 L895.0,390.3 L895.4,410.3 L895.8,411.4 L896.2,385.0 L896.6,381.9 L897.0,403.4 L897.4,372.8 L897.8,414.5 L898.2,415.6 L898.6,399.6 L899.0,420.7 L899.4,377.8 L899.8,383.0 L900.2,424.3 L900.6,399.7 L901.0,379.2 L901.4,394.0 L901.8,424.0 L902.2,421.8 L902.6,423.8 L903.0,422.9 L903.4,423.9 L903.8,396.9 L904.2,399.9 L904.6,395.3 L905.0,423.7 L905.4,423.7 L905.8,418.4 L906.2,405.1 L906.6,418.7 L907.0,398.5 L907.4,424.3 L907.8,424.3 L908.2,399.9 L908.6,399.7 L909.0,421.2 L909.4,420.7 L909.8,420.1 L910.2,416.3 L910.6,410.6 L911.0,413.6 L911.4,403.5 L911.8,402.2 L912.2,398.6 L912.6,417.4 L913.0,390.7 L913.4,414.1 L913.8,385.8 L914.2,383.3 L914.6,380.8 L915.0,378.4 L915.4,398.6 L915.8,382.8 L916.2,388.5 L916.6,369.7 L917.0,388.5 L917.4,368.8 L917.8,386.8 L918.2,375.6 L918.6,367.8 L919.0,399.8 L919.4,398.8 L919.8,380.2 L920.2,396.7 L920.6,393.4 L921.0,394.7 L921.4,393.6 L921.8,386.0 L922.2,370.4 L922.6,390.3 L923.0,368.9 L923.4,374.7 L923.8,388.1 L924.2,358.9 L924.6,383.6 L925.0,368.2 L925.4,370.2 L925.8,391.2 L926.2,353.7 L926.6,381.0 L927.0,360.4 L927.4,355.1 L927.8,366.6 L928.2,368.4 L928.6,359.9 L929.0,415.5 L929.4,419.2 L929.8,365.5 L930.2,374.4 L930.6,430.4 L931.0,374.9 L931.4,423.9 L931.8,433.6 L932.2,433.9 L932.6,431.6 L933.0,430.6 L933.4,391.2 L933.8,420.5 L934.2,414.7 L934.6,423.5 L935.0,387.8 L935.4,386.5 L935.8,418.0 L936.2,424.0 L936.6,424.9 L937.0,381.7 L937.4,424.7 L937.8,403.6 L938.2,398.2 L938.6,396.3 L939.0,418.4 L939.4,422.6 L939.8,399.3 L940.2,419.0 L940.6,417.4 L941.0,405.4 L941.4,422.0 L941.8,404.3 L942.2,406.1 L942.6,412.6 L943.0,416.0 L943.4,403.6 L943.8,406.2 L944.2,425.1 L944.6,420.2 L945.0,420.7 L945.4,416.5 L945.8,426.1 L946.2,426.1 L946.6,417.9 L947.0,426.9 L947.4,403.0 L947.8,412.2 L948.2,398.6 L948.6,398.5 L949.0,424.9 L949.4,406.8 L949.8,423.6 L950.2,418.2 L950.6,414.1 L951.0,386.6 L951.4,399.6 L951.8,380.6 L952.2,377.5 L952.6,375.7 L953.0,383.3 L953.4,419.4 L953.8,370.8 L954.2,372.8 L954.6,376.7 L955.0,375.9 L955.4,399.2 L955.8,379.4 L956.2,378.1 L956.6,390.0 L957.0,383.0 L957.4,421.4 L957.8,421.5 L958.2,413.6 L958.6,393.3 L959.0,418.2 L959.4,419.0 L959.8,405.0 L960.2,387.5 L960.6,409.9 L961.0,403.8 L961.4,378.9 L961.8,395.8 L962.2,400.1 L962.6,412.5 L963.0,382.8 L963.4,380.6 L963.8,401.9 L964.2,395.7 L964.6,410.4 L965.0,415.4 L965.4,411.7 L965.8,390.6 L966.2,417.2 L966.6,383.7 L967.0,384.2 L967.4,384.6 L967.8,420.1 L968.2,404.7 L968.6,421.6 L969.0,421.4 L969.4,420.2 L969.8,420.3 L970.2,409.2 L970.6,408.9 L971.0,386.6 L971.4,404.7 L971.8,396.5 L972.2,385.8 L972.6,397.1 L973.0,397.6 L973.4,413.8 L973.8,414.6 L974.2,406.4 L974.6,397.8 L975.0,379.2 L975.4,402.9 L975.8,423.9 L976.2,421.7 L976.6,427.2 L977.0,428.9 L977.4,384.3 L977.8,420.3 L978.2,431.4 L978.6,431.5 L979.0,408.1 L979.4,431.2 L979.8,431.2 L980.2,428.7 L980.6,406.8 L981.0,423.4 L981.4,426.6 L981.8,408.2 L982.2,407.4 L982.6,408.1 L983.0,408.4 L983.4,415.9 L983.8,406.2 L984.2,415.7 L984.6,408.0 L985.0,407.0 L985.4,423.8 L985.8,417.5 L986.2,421.4 L986.6,416.1 L987.0,420.3 L987.4,411.1 L987.8,409.5 L988.2,410.0 L988.6,417.3 L989.0,419.6 L989.4,426.7 L989.8,426.7 L990.2,426.3 L990.6,412.6 L991.0,413.2 L991.4,426.8 L991.8,426.7 L992.2,423.0 L992.6,414.8 L993.0,425.8 L993.4,426.8 L993.8,429.6 L994.2,430.1 L994.6,430.5 L995.0,431.0 L995.4,417.2 L995.8,429.6 L996.2,419.4 L996.6,419.9 L997.0,420.4 L997.4,421.0 L997.8,420.3 L998.2,434.1 L998.6,430.5 L999.0,433.1 L999.4,432.1 L999.8,423.7 L1000.2,423.5 L1000.6,432.4 L1001.0,432.9 L1001.4,429.9 L1001.8,427.2 L1002.2,432.1 L1002.6,431.6 L1003.0,428.0 L1003.4,431.0 L1003.8,427.2 L1004.2,410.0 L1004.6,404.7 L1005.0,399.3 L1005.4,429.0 L1005.8,425.6 L1006.2,427.5 L1006.6,421.8 L1007.0,416.0 L1007.4,415.9 L1007.8,415.6 L1008.2,395.2 L1008.6,404.6 L1009.0,419.2 L1009.4,418.3 L1009.8,408.7 L1010.2,413.8 L1010.6,420.2 L1011.0,391.6 L1011.4,414.7 L1011.8,406.2 L1012.2,423.5 L1012.6,422.7 L1013.0,417.3 L1013.4,426.6 L1013.8,397.3 L1014.2,411.8 L1014.6,398.6 L1015.0,430.6 L1015.4,430.4 L1015.8,424.0 L1016.2,423.2 L1016.6,411.8 L1017.0,415.6 L1017.4,411.0 L1017.8,407.2 L1018.2,408.2 L1018.6,420.3 L1019.0,415.2 L1019.4,406.4 L1019.8,407.5 L1020.2,424.7 L1020.6,402.8 L1021.0,404.8 L1021.4,403.1 L1021.8,400.6 L1022.2,422.6 L1022.6,406.1 L1023.0,417.4 L1023.4,421.0 L1023.8,422.2 L1024.2,412.0 L1024.6,404.7 L1025.0,420.5 L1025.4,416.5 L1025.8,408.6 L1026.2,409.9 L1026.6,421.7 L1027.0,400.6 L1027.4,404.6 L1027.8,423.4 L1028.2,423.4 L1028.6,397.4 L1029.0,394.1 L1029.4,420.7 L1029.8,418.2 L1030.2,401.0 L1030.6,392.4 L1031.0,386.5 L1031.4,386.1 L1031.8,405.7 L1032.2,413.8 L1032.6,394.7 L1033.0,415.0 L1033.4,390.8 L1033.8,407.6 L1034.2,384.6 L1034.6,384.8 L1035.0,417.5 L1035.4,416.8 L1035.8,407.2 L1036.2,412.5 L1036.6,407.7 L1037.0,408.4 L1037.4,407.4 L1037.8,413.2 L1038.2,405.8 L1038.6,407.2 L1039.0,401.1 L1039.4,414.3 L1039.8,415.4 L1040.2,415.4 L1040.6,414.8 L1041.0,416.1 L1041.4,399.7 L1041.8,416.6 L1042.2,393.7 L1042.6,393.4 L1043.0,407.4 L1043.4,414.8 L1043.8,395.0 L1044.2,421.4 L1044.6,415.7 L1045.0,413.0 L1045.4,420.9 L1045.8,417.5 L1046.2,423.4 L1046.6,423.3 L1047.0,414.2 L1047.4,417.4 L1047.8,404.8 L1048.2,397.0 L1048.6,407.6 L1049.0,394.7 L1049.4,410.0 L1049.8,403.0 L1050.2,394.5 L1050.6,389.9 L1051.0,390.1 L1051.4,413.8 L1051.8,417.8 L1052.2,390.0 L1052.6,398.6 L1053.0,396.9 L1053.4,414.0 L1053.8,418.0 L1054.2,406.7 L1054.6,404.2 L1055.0,389.7 L1055.4,408.1 L1055.8,416.9 L1056.2,411.3 L1056.6,407.8 L1057.0,386.4 L1057.4,397.4 L1057.8,384.1 L1058.2,388.4 L1058.6,416.6 L1059.0,407.6 L1059.4,379.3 L1059.8,374.2 L1060.2,372.4 L1060.6,370.7 L1061.0,416.7 L1061.4,399.7 L1061.8,388.0 L1062.2,367.2 L1062.6,370.0 L1063.0,420.2 L1063.4,365.7 L1063.8,380.4 L1064.2,367.0 L1064.6,413.4 L1065.0,422.5 L1065.4,422.4 L1065.8,422.3 L1066.2,422.3 L1066.6,422.4 L1067.0,407.3 L1067.4,397.5 L1067.8,397.2 L1068.2,408.4 L1068.6,418.0 L1069.0,418.9 L1069.4,418.5 L1069.8,418.0 L1070.2,393.0 L1070.6,416.9 L1071.0,415.1 L1071.4,389.4 L1071.8,415.3 L1072.2,381.9 L1072.6,385.8 L1073.0,395.3 L1073.4,394.4 L1073.8,391.6 L1074.2,361.2 L1074.6,358.0 L1075.0,372.7 L1075.4,414.4 L1075.8,394.0 L1076.2,355.9 L1076.6,352.1 L1077.0,419.6 L1077.4,419.6 L1077.8,354.4 L1078.2,409.6 L1078.6,347.3 L1079.0,346.3 L1079.4,346.6 L1079.8,410.0 L1080.2,359.6 L1080.6,346.0 L1081.0,345.8 L1081.4,353.4 L1081.8,406.5 L1082.2,362.2 L1082.6,368.7 L1083.0,352.5 L1083.4,353.6 L1083.8,380.4 L1084.2,409.6 L1084.6,410.6 L1085.0,358.0 L1085.4,373.7 L1085.8,360.5 L1086.2,364.4 L1086.6,388.4 L1087.0,411.0 L1087.4,412.0 L1087.8,368.3 L1088.2,369.7 L1088.6,371.1 L1089.0,419.0 L1089.4,374.1 L1089.8,419.0 L1090.2,410.1 L1090.6,419.8 L1091.0,376.4 L1091.4,404.4 L1091.8,412.2 L1092.2,404.3 L1092.6,412.9 L1093.0,382.3 L1093.4,419.3 L1093.8,384.7 L1094.2,396.9 L1094.6,419.7 L1095.0,418.6 L1095.4,421.1 L1095.8,413.7 L1096.2,393.3 L1096.6,412.5 L1097.0,418.5 L1097.4,421.5 L1097.8,421.5 L1098.2,421.3 L1098.6,399.8 L1099.0,419.4 L1099.4,412.2 L1099.8,395.3 L1100.2,396.0 L1100.6,414.9 L1101.0,416.5 L1101.4,412.6 L1101.8,408.2 L1102.2,411.3 L1102.6,421.0 L1103.0,422.8 L1103.4,420.2 L1103.8,425.5 L1104.2,424.0 L1104.6,428.1 L1105.0,429.5 L1105.4,430.2 L1105.8,429.8 L1106.2,430.6 L1106.6,415.9 L1107.0,428.7 L1107.4,418.4 L1107.8,415.4 L1108.2,429.9 L1108.6,427.5 L1109.0,411.8 L1109.4,430.6 L1109.8,420.6 L1110.2,430.6 L1110.6,407.0 L1111.0,405.8 L1111.4,404.6 L1111.8,428.3 L1112.2,402.0 L1112.6,430.6 L1113.0,429.5 L1113.4,427.1 L1113.8,420.0 L1114.2,398.3 L1114.6,398.4 L1115.0,393.0 L1115.4,421.9 L1115.8,420.9 L1116.2,386.3 L1116.6,415.7 L1117.0,369.7 L1117.4,376.9 L1117.8,384.0 L1118.2,370.4 L1118.6,333.7 L1119.0,394.2 L1119.4,333.3 L1119.8,395.5 L1120.2,333.8 L1120.6,397.1 L1121.0,333.5 L1121.4,407.1 L1121.8,387.7 L1122.2,355.6 L1122.6,422.7 L1123.0,418.9 L1123.4,384.7 L1123.8,384.2 L1124.2,401.0 L1124.6,389.4 L1125.0,401.9 L1125.4,410.4 L1125.8,407.3 L1126.2,390.3 L1126.6,416.4 L1127.0,377.1 L1127.4,384.4 L1127.8,392.8 L1128.2,380.7 L1128.6,379.9 L1129.0,383.0 L1129.4,396.2 L1129.8,385.1 L1130.2,368.9 L1130.6,361.7 L1131.0,353.0 L1131.4,396.4 L1131.8,350.1 L1132.2,350.8 L1132.6,401.6 L1133.0,382.9 L1133.4,382.4 L1133.8,409.3 L1134.2,385.5 L1134.6,380.2 L1135.0,407.3 L1135.4,385.8 L1135.8,406.5 L1136.2,357.1 L1136.6,363.4 L1137.0,369.2 L1137.4,384.6 L1137.8,361.6 L1138.2,402.0 L1138.6,401.6 L1139.0,359.5 L1139.4,371.9 L1139.8,396.9 L1140.2,402.0 L1140.6,401.3 L1141.0,366.1 L1141.4,405.4 L1141.8,363.4 L1142.2,384.2 L1142.6,362.0 L1143.0,414.8 L1143.4,416.0 L1143.8,416.9 L1144.2,395.7 L1144.6,386.2 L1145.0,369.0 L1145.4,423.2 L1145.8,356.7 L1146.2,414.1 L1146.6,380.2 L1147.0,419.2 L1147.4,409.1 L1147.8,363.9 L1148.2,373.3 L1148.6,369.6 L1149.0,373.2 L1149.4,376.8 L1149.8,429.3 L1150.2,399.3 L1150.6,432.1 L1151.0,409.3 L1151.4,385.9 L1151.8,419.2 L1152.2,429.9 L1152.6,429.2 L1153.0,428.4 L1153.4,428.5 L1153.8,427.7 L1154.2,426.9 L1154.6,395.8 L1155.0,394.7 L1155.4,393.6 L1155.8,402.7 L1156.2,398.8 L1156.6,390.3 L1157.0,413.4 L1157.4,421.6 L1157.8,421.2 L1158.2,420.7 L1158.6,386.1 L1159.0,409.7 L1159.4,417.1 L1159.8,416.7 L1160.2,416.2 L1160.6,401.9 L1161.0,393.7 L1161.4,387.0 L1161.8,414.9 L1162.2,389.3 L1162.6,404.3 L1163.0,407.7 L1163.4,402.0 L1163.8,396.6" fill="none" stroke="#1f00ff" stroke-width="2.15" stroke-linejoin="round" stroke-linecap="round"/>
<rect x="663.7" y="94.2" width="7.6" height="40" rx="1.5" fill="#ff0000"/>
<rect x="663.9" y="131" width="6.2" height="20" fill="#1f00ff"/>
<rect x="197.5" y="341" width="3.4" height="96.5" fill="#ff0000"/>
<rect x="197.5" y="341" width="3.2" height="91" fill="#1f00ff"/>
<rect x="192" y="673" width="3" height="356" fill="#5a5a5a"/>
<rect x="192" y="672.5" width="1090" height="2" fill="#5a5a5a"/>
<rect x="1286" y="672" width="2.6" height="344.6" fill="#aaaaaa"/>
<g fill="#262626">
<path d="M185.6,664.4 H1286.4 V1035.6 H185.6 Z M193.0,673.0 V1028.0 H1279.4 V673.0 Z" fill-rule="evenodd"/>
</g>
<rect x="343.6" y="1016.5" width="7.4" height="13" rx="3.4" fill="#262626"/>
<rect x="499.4" y="1016.5" width="7.4" height="13" rx="3.4" fill="#262626"/>
<rect x="655.2" y="1016.5" width="7.4" height="13" rx="3.4" fill="#262626"/>
<rect x="811.0" y="1016.5" width="7.4" height="13" rx="3.4" fill="#262626"/>
<rect x="966.8" y="1016.5" width="7.4" height="13" rx="3.4" fill="#262626"/>
<rect x="1122.6" y="1016.5" width="7.4" height="13" rx="3.4" fill="#262626"/>
<rect x="191" y="786.6" width="14.6" height="5.8" rx="2.8" fill="#262626"/>
<rect x="191" y="907.9" width="14.6" height="5.8" rx="2.8" fill="#262626"/>
<path d="M187.6,1019.6 L188.0,1027.5 L188.4,1026.5 L188.8,1018.6 L189.2,1018.0 L189.6,1025.5 L190.0,1023.9 L190.4,1016.6 L190.8,1016.0 L191.2,1025.0 L191.6,1022.6 L192.0,1014.6 L192.4,1014.1 L192.8,1023.3 L193.2,1022.5 L193.6,1013.2 L193.6,1012.6 L194.0,1023.0 L194.4,1021.8 L194.8,1012.5 L195.2,1011.9 L195.6,1022.6 L196.0,1022.0 L196.4,1011.0 L196.1,1009.7 L196.5,1022.8 L196.9,1022.6 L197.3,1009.4 L197.7,1008.2 L198.1,1021.3 L198.5,1021.4 L198.9,1009.6 L199.3,1008.7 L199.7,1020.1 L200.1,1020.3 L200.5,1007.7 L200.9,1009.0 L201.3,1021.2 L201.7,1021.2 L202.1,1007.5 L202.5,1006.9 L202.9,1020.3 L203.3,1019.6 L203.7,1008.6 L204.1,1005.2 L204.5,1020.9 L204.9,1021.3 L205.3,1004.9 L205.7,1004.5 L206.1,1021.2 L206.5,1019.5 L206.9,1004.6 L207.1,1005.1 L207.5,1022.2 L207.9,1021.7 L208.3,1005.4 L208.7,1004.5 L209.1,1022.6 L209.5,1022.6 L209.9,1005.1 L210.3,1004.9 L210.7,1022.7 L211.1,1022.3 L211.5,1004.0 L211.9,1005.1 L212.3,1021.4 L212.7,1020.6 L213.1,1004.7 L213.5,1003.2 L213.9,1021.5 L214.3,1020.6 L214.7,1004.7 L215.1,1003.9 L215.5,1024.6 L215.9,1023.7 L216.3,1004.7 L216.7,1004.4 L217.1,1023.7 L217.5,1024.2 L217.9,1004.4 L218.3,1004.0 L218.7,1023.5 L219.1,1027.5 L219.5,1002.5 L219.9,1001.6 L220.3,1027.5 L220.7,1027.5 L221.1,1000.6 L221.5,1000.4 L221.9,1027.5 L222.3,1027.5 L222.7,1001.6 L223.1,993.5 L223.5,1027.4 L223.9,1027.5 L224.3,993.5 L224.1,993.5 L224.5,1021.1 L224.9,1021.2 L225.3,993.5 L225.7,1000.9 L226.1,1020.2 L226.1,1019.0 L226.5,998.5 L226.9,999.8 L227.3,1017.8 L227.7,1019.0 L228.1,999.0 L228.5,999.2 L228.9,1018.1 L229.3,1018.3 L229.7,999.1 L230.1,999.2 L230.5,1017.2 L230.9,1017.9 L231.3,999.1 L231.7,997.9 L232.1,1017.1 L232.5,1018.3 L232.9,997.5 L233.3,998.2 L233.7,1017.0 L234.1,1018.4 L234.5,997.6 L234.9,997.1 L235.3,1017.0 L235.7,1018.5 L236.1,995.5 L236.5,995.5 L236.9,1017.7 L237.3,1016.7 L237.7,995.9 L238.1,1001.4 L238.5,1019.6 L238.9,1019.3 L239.3,999.8 L239.7,1000.1 L240.1,1018.1 L240.5,1019.0 L240.9,1001.3 L240.6,1001.5 L241.0,1021.1 L241.4,1020.8 L241.8,1001.0 L242.2,1000.9 L242.6,1020.2 L243.0,1020.6 L243.4,1000.1 L243.8,1000.7 L244.2,1020.5 L244.6,1020.6 L245.0,999.6 L245.4,980.5 L245.8,1020.4 L246.2,1020.4 L246.6,980.5 L246.6,980.5 L247.0,1019.8 L247.4,1020.3 L247.8,980.5 L248.2,980.5 L248.6,1020.3 L249.0,1018.4 L249.4,995.3 L249.8,994.8 L250.2,1019.0 L250.6,1016.6 L251.0,992.0 L251.4,993.5 L251.8,1015.9 L252.2,1016.8 L252.6,992.9 L253.0,993.2 L253.4,1015.1 L253.8,1015.0 L254.2,992.5 L254.6,990.8 L255.0,1015.8 L255.4,1016.2 L255.8,990.2 L256.2,990.0 L256.6,1015.8 L257.0,1015.0 L257.4,990.6 L257.1,999.0 L257.5,1015.1 L257.9,1015.8 L258.3,998.9 L258.7,997.7 L259.1,1015.5 L259.5,1015.7 L259.9,997.5 L260.3,939.8 L260.7,1014.5 L261.1,1015.0 L261.5,939.8 L261.9,939.8 L262.3,1014.5 L262.7,1015.5 L263.1,939.8 L263.5,939.8 L263.9,1015.5 L264.1,1020.3 L264.5,990.1 L264.9,991.0 L265.3,1020.4 L265.7,1021.3 L266.1,989.7 L266.5,990.4 L266.9,1021.5 L267.1,1016.8 L267.5,981.3 L267.9,980.0 L268.3,1016.9 L268.7,1016.2 L269.1,980.2 L269.5,980.6 L269.9,1015.9 L269.6,1014.7 L270.0,984.9 L270.4,984.2 L270.8,1014.4 L271.2,1015.0 L271.6,984.8 L272.0,984.3 L272.4,1013.9 L272.8,1013.2 L273.2,985.2 L273.6,994.4 L274.0,1018.6 L274.4,1018.6 L274.8,994.3 L275.2,992.8 L275.6,1018.6 L276.0,1015.0 L276.4,992.9 L276.1,996.6 L276.5,1013.8 L276.9,1015.1 L277.3,996.1 L277.7,996.5 L278.1,1014.1 L278.5,1014.1 L278.9,996.7 L279.3,996.2 L279.7,1014.3 L280.1,1015.7 L280.5,992.5 L280.9,993.0 L281.3,1016.3 L281.7,1015.4 L282.1,992.4 L282.5,991.2 L282.9,1015.9 L283.3,1016.3 L283.7,992.5 L284.1,991.5 L284.5,1014.9 L284.9,1016.3 L285.3,991.7 L285.1,994.9 L285.5,1014.4 L285.9,1014.4 L286.3,994.6 L286.7,994.9 L287.1,1013.1 L287.5,1012.9 L287.9,994.7 L288.1,994.8 L288.5,1011.8 L288.9,1012.3 L289.3,994.3 L289.7,994.5 L290.1,1013.3 L290.5,1011.7 L290.9,994.2 L291.3,995.4 L291.7,1012.1 L292.1,1012.4 L292.5,995.2 L292.9,995.0 L293.3,1011.7 L293.7,1012.5 L294.1,993.6 L294.1,990.2 L294.5,1014.4 L294.9,1015.6 L295.3,990.1 L295.7,990.0 L296.1,1015.7 L296.5,1014.3 L296.9,990.8 L297.3,990.0 L297.7,1014.0 L298.1,1015.3 L298.5,990.0 L298.9,989.5 L299.3,1015.0 L299.7,1015.7 L300.1,989.5 L300.1,985.3 L300.5,1022.9 L300.9,1022.9 L301.3,985.7 L301.7,985.8 L302.1,1022.9 L302.5,1022.9 L302.9,984.2 L302.6,988.4 L303.0,1022.9 L303.4,1011.2 L303.8,987.1 L304.2,988.0 L304.6,1011.1 L305.0,1012.1 L305.4,986.7 L305.1,988.9 L305.5,1011.0 L305.9,1011.7 L306.3,987.4 L306.7,988.7 L307.1,1010.4 L307.5,1011.4 L307.9,986.8 L308.3,987.2 L308.7,1011.0 L309.1,1011.5 L309.5,987.1 L309.9,988.2 L310.3,1011.4 L310.7,1010.2 L311.1,988.3 L311.5,987.0 L311.9,1011.6 L312.3,1010.1 L312.7,987.0 L313.1,983.3 L313.5,1013.0 L313.9,1011.9 L314.3,983.4 L314.7,982.9 L315.1,1013.0 L315.5,1012.0 L315.9,982.7 L316.3,981.6 L316.7,1012.6 L317.1,1009.1 L317.5,991.2 L317.9,992.0 L318.3,1010.8 L318.7,1009.5 L319.1,992.2 L319.5,991.9 L319.9,1008.9 L320.3,1009.3 L320.7,992.2 L321.1,990.4 L321.5,1009.9 L321.9,1009.1 L322.3,990.6 L322.7,990.4 L323.1,1009.4 L323.5,1010.0 L323.9,991.4 L324.3,990.3 L324.7,1010.0 L325.1,1010.5 L325.5,990.2 L325.9,989.4 L326.3,1009.0 L326.7,1010.1 L327.1,989.4 L327.5,988.8 L327.9,1010.4 L327.6,1009.8 L328.0,985.6 L328.4,985.7 L328.8,1008.9 L329.2,1008.6 L329.6,987.0 L330.0,985.2 L330.4,1008.3 L330.8,1009.9 L331.2,985.8 L331.6,975.3 L332.0,1009.2 L332.4,1008.0 L332.8,975.3 L333.2,975.3 L333.6,1008.8 L334.0,1008.2 L334.4,975.3 L334.8,975.3 L335.2,1008.8 L335.6,1010.6 L336.0,989.2 L336.4,988.4 L336.8,1010.0 L337.2,1010.1 L337.6,988.5 L338.0,988.0 L338.4,1011.0 L338.8,1010.4 L339.2,988.6 L339.6,987.9 L340.0,1010.9 L340.4,1009.9 L340.8,970.0 L340.6,970.0 L341.0,1012.5 L341.4,1012.4 L341.8,970.0 L342.2,970.0 L342.6,1010.9 L343.0,1011.7 L343.4,970.0 L343.8,970.0 L344.2,1012.1 L344.6,1011.8 L345.0,984.6 L345.4,984.1 L345.8,1012.0 L346.2,1011.3 L346.6,984.1 L347.0,983.6 L347.4,1010.8 L347.8,1012.0 L348.2,984.4 L348.6,978.9 L349.0,1010.4 L349.4,1010.4 L349.8,978.2 L350.2,979.5 L350.6,1011.0 L351.0,1011.9 L351.4,979.9 L351.8,979.4 L352.2,1011.0 L352.6,1010.2 L353.0,979.4 L353.4,978.0 L353.8,1011.1 L353.6,1009.1 L354.0,988.5 L354.4,987.5 L354.8,1007.7 L355.2,1008.2 L355.6,988.7 L356.0,988.6 L356.4,1008.6 L356.8,1008.9 L357.2,987.3 L357.6,987.8 L358.0,1007.3 L358.4,1008.4 L358.8,975.3 L359.2,975.3 L359.6,1007.0 L360.0,1008.8 L360.4,975.3 L360.8,975.3 L361.2,1008.4 L361.6,1008.3 L362.0,975.3 L362.4,978.6 L362.8,1009.3 L363.2,1008.8 L363.6,978.3 L364.0,977.7 L364.4,1008.0 L364.6,1006.2 L365.0,987.7 L365.4,986.9 L365.8,1006.8 L366.2,1007.2 L366.6,987.6 L367.0,987.8 L367.4,1006.7 L367.8,1007.2 L368.2,986.5 L368.6,979.3 L369.0,1007.7 L369.4,1007.3 L369.8,979.9 L370.2,978.8 L370.6,1007.6 L370.6,1008.4 L371.0,988.9 L371.4,989.7 L371.8,1008.8 L372.2,1008.1 L372.6,988.1 L373.0,989.5 L373.4,1007.4 L373.6,1010.8 L374.0,970.0 L374.4,970.0 L374.8,1011.6 L375.2,1012.7 L375.6,970.0 L375.6,970.0 L376.0,1008.1 L376.4,1007.6 L376.8,970.0 L377.2,975.0 L377.6,1007.7 L377.6,1010.0 L378.0,987.7 L378.4,987.5 L378.8,1010.5 L379.2,1010.7 L379.6,989.0 L380.0,987.2 L380.4,1010.5 L380.1,1006.5 L380.5,983.5 L380.9,983.9 L381.3,1006.3 L381.7,1006.5 L382.1,983.7 L382.5,983.5 L382.9,1006.0 L383.3,1006.2 L383.7,983.6 L384.1,982.6 L384.5,1005.4 L384.9,1006.7 L385.3,983.2 L385.7,982.5 L386.1,1006.4 L386.5,1006.3 L386.9,983.6 L387.3,984.0 L387.7,1006.1 L388.1,1007.1 L388.5,983.5 L388.9,985.0 L389.3,1007.3 L389.7,1006.3 L390.1,983.5 L390.5,983.8 L390.9,1007.1 L390.6,1007.0 L391.0,984.5 L391.4,983.9 L391.8,1006.6 L392.2,1008.0 L392.6,985.1 L393.0,984.1 L393.4,1007.2 L393.6,1008.0 L394.0,972.9 L394.4,973.9 L394.8,1006.6 L395.2,1006.5 L395.6,972.4 L396.0,973.8 L396.4,1007.7 L396.8,1008.1 L397.2,972.6 L397.6,973.9 L398.0,1006.3 L398.4,1006.8 L398.8,973.5 L398.6,980.7 L399.0,1005.6 L399.4,1005.0 L399.8,980.7 L400.2,980.9 L400.6,1006.8 L401.0,1006.6 L401.4,981.3 L401.8,981.4 L402.2,1006.4 L402.6,1004.8 L403.0,986.1 L403.4,985.7 L403.8,1006.4 L404.2,1005.3 L404.6,987.0 L405.0,986.7 L405.4,1006.1 L405.8,1006.1 L406.2,986.9 L406.6,987.6 L407.0,1004.8 L407.4,1004.0 L407.8,986.5 L408.2,986.1 L408.6,1004.8 L409.0,1003.9 L409.4,986.2 L409.8,987.1 L410.2,1004.3 L410.6,1005.6 L411.0,987.5 L411.4,986.7 L411.8,1005.2 L412.2,1004.9 L412.6,986.9 L413.0,986.0 L413.4,1005.1 L413.8,1005.0 L414.2,987.3 L414.6,979.2 L415.0,1015.3 L415.4,1015.7 L415.8,980.1 L416.2,980.2 L416.6,1015.8 L417.0,1014.8 L417.4,979.2 L417.8,978.7 L418.2,1015.6 L418.6,1014.7 L419.0,979.0 L419.4,980.5 L419.8,1015.4 L419.6,1006.0 L420.0,981.0 L420.4,979.7 L420.8,1005.5 L421.2,1006.1 L421.6,979.6 L422.0,979.8 L422.4,1005.5 L422.6,1006.7 L423.0,981.3 L423.4,980.4 L423.8,1006.6 L424.2,1005.5 L424.6,980.0 L425.0,980.9 L425.4,1005.0 L425.8,1006.4 L426.2,981.4 L426.6,981.1 L427.0,1005.5 L427.4,1005.0 L427.8,980.0 L428.2,980.1 L428.6,1006.1 L428.6,1007.3 L429.0,965.7 L429.4,965.7 L429.8,1007.1 L430.2,1007.0 L430.6,965.7 L431.0,965.7 L431.4,1007.8 L431.1,1005.0 L431.5,965.7 L431.9,965.7 L432.3,1004.3 L432.7,1003.4 L433.1,985.4 L433.5,984.4 L433.9,1003.0 L434.3,1003.2 L434.7,985.9 L435.1,982.8 L435.5,1007.2 L435.9,1006.3 L436.3,983.0 L436.7,983.5 L437.1,1005.8 L437.5,1007.1 L437.9,982.9 L438.3,982.9 L438.7,1006.2 L439.1,1003.6 L439.5,984.0 L439.9,984.2 L440.3,1004.1 L440.7,1004.5 L441.1,984.4 L441.1,985.1 L441.5,1003.9 L441.9,1004.3 L442.3,970.0 L442.7,970.0 L443.1,1004.4 L443.1,1002.8 L443.5,970.0 L443.9,970.0 L444.3,1003.2 L444.7,1002.4 L445.1,970.0 L445.5,984.9 L445.9,1003.2 L446.3,1003.3 L446.7,986.0 L447.1,984.2 L447.5,1002.6 L447.9,1003.2 L448.3,985.5 L448.7,985.7 L449.1,1004.0 L449.1,1009.3 L449.5,984.8 L449.9,984.1 L450.3,1010.5 L450.7,1008.9 L451.1,984.1 L451.5,984.2 L451.9,1010.5 L452.3,1010.1 L452.7,984.5 L453.1,983.7 L453.5,1009.5 L453.9,1008.9 L454.3,984.1 L454.1,984.7 L454.5,1005.0 L454.9,1005.7 L455.3,984.7 L455.7,985.3 L456.1,1006.2 L456.5,1005.7 L456.9,984.9 L457.3,983.6 L457.7,1005.6 L458.1,1002.4 L458.5,977.5 L458.9,978.5 L459.3,1002.2 L459.7,1003.2 L460.1,976.7 L460.5,977.9 L460.9,1002.8 L461.3,1001.5 L461.7,978.0 L462.1,977.4 L462.5,1002.8 L462.9,1003.0 L463.3,977.4 L463.7,977.0 L464.1,1003.2 L464.1,1002.0 L464.5,981.5 L464.9,981.1 L465.3,1002.1 L465.7,1002.7 L466.1,981.8 L466.5,981.1 L466.9,1002.4 L467.1,1001.7 L467.5,977.7 L467.9,976.8 L468.3,1001.9 L468.7,1001.8 L469.1,977.4 L469.5,977.7 L469.9,1002.7 L470.3,1001.5 L470.7,975.8 L471.1,976.5 L471.5,1002.5 L471.9,1002.6 L472.3,976.7 L472.7,976.0 L473.1,1002.7 L473.1,1002.3 L473.5,977.6 L473.9,978.0 L474.3,1001.4 L474.7,1001.3 L475.1,977.0 L475.5,978.4 L475.9,1001.3 L476.1,1002.1 L476.5,959.4 L476.9,959.0 L477.3,1001.4 L477.7,1002.1 L478.1,952.8 L478.5,952.8 L478.9,1000.9 L479.1,1009.8 L479.5,952.8 L479.9,970.0 L480.3,1008.0 L480.7,1008.0 L481.1,952.8 L481.5,952.8 L481.9,1008.3 L482.1,1000.5 L482.5,952.8 L482.9,952.8 L483.3,1000.9 L483.7,1001.7 L484.1,974.0 L484.5,973.8 L484.9,1001.1 L485.3,1001.2 L485.7,973.6 L486.1,966.8 L486.5,1008.1 L486.9,1009.0 L487.3,968.1 L487.7,966.6 L488.1,1009.2 L488.5,1008.2 L488.9,966.7 L489.3,966.9 L489.7,1008.8 L490.1,1000.0 L490.5,974.9 L490.9,974.1 L491.3,1001.4 L491.7,1000.2 L492.1,974.3 L492.5,974.8 L492.9,1001.4 L492.6,1002.3 L493.0,979.3 L493.4,977.4 L493.8,1002.2 L494.2,1001.0 L494.6,978.3 L495.0,977.4 L495.4,1001.6 L495.6,1001.8 L496.0,939.8 L496.4,939.8 L496.8,1000.7 L497.2,1000.7 L497.6,939.8 L498.0,939.8 L498.4,1000.4 L498.8,1000.9 L499.2,939.8 L499.6,977.4 L500.0,1001.6 L500.4,1002.0 L500.8,977.4 L501.2,977.3 L501.6,1002.0 L502.0,1001.7 L502.4,978.0 L502.1,978.8 L502.5,999.7 L502.9,999.5 L503.3,978.5 L503.7,977.9 L504.1,1000.2 L504.5,999.7 L504.9,978.9 L505.1,973.6 L505.5,1000.0 L505.9,1000.6 L506.3,974.7 L506.7,973.4 L507.1,1000.8 L507.5,999.8 L507.9,974.5 L508.3,974.3 L508.7,998.9 L509.1,999.0 L509.5,968.2 L509.9,968.0 L510.3,1000.4 L510.7,999.0 L511.1,969.1 L511.1,981.5 L511.5,1005.7 L511.9,1006.4 L512.3,980.2 L512.7,958.0 L513.1,1006.1 L513.1,999.8 L513.5,958.0 L513.9,958.0 L514.3,999.3 L514.7,1001.1 L515.1,958.0 L515.5,958.0 L515.9,1000.8 L516.3,1000.1 L516.7,965.9 L517.1,965.5 L517.5,1000.2 L517.9,1000.6 L518.3,967.1 L518.7,966.6 L519.1,1000.6 L519.1,1002.8 L519.5,976.8 L519.9,977.9 L520.3,1001.3 L520.7,1001.5 L521.1,977.4 L521.5,977.6 L521.9,1002.7 L522.3,1001.5 L522.7,977.7 L523.1,976.3 L523.5,1002.3 L523.9,1001.2 L524.3,977.2 L524.1,961.6 L524.5,999.2 L524.9,999.2 L525.3,961.3 L525.7,960.8 L526.1,998.8 L526.5,998.6 L526.9,959.8 L527.1,945.8 L527.5,999.8 L527.9,1000.1 L528.3,945.8 L528.7,945.8 L529.1,998.9 L529.1,998.2 L529.5,945.8 L529.9,945.8 L530.3,998.8 L530.7,999.0 L531.1,979.5 L531.5,978.8 L531.9,998.4 L532.3,998.9 L532.7,978.6 L533.1,978.5 L533.5,997.8 L533.1,999.3 L533.5,975.5 L533.9,974.5 L534.3,997.9 L534.7,998.5 L535.1,973.8 L535.5,974.5 L535.9,998.1 L536.3,998.4 L536.7,974.8 L537.1,974.9 L537.5,997.5 L537.1,1000.0 L537.5,971.5 L537.9,972.4 L538.3,999.3 L538.7,1000.2 L539.1,973.0 L539.5,972.1 L539.9,999.7 L539.6,1005.0 L540.0,975.9 L540.4,974.2 L540.8,1004.7 L541.2,1004.2 L541.6,975.2 L542.0,973.9 L542.4,1005.6 L542.8,1003.8 L543.2,956.2 L543.6,956.2 L544.0,1004.7 L544.4,1003.6 L544.8,956.2 L545.2,975.1 L545.6,1004.9 L546.0,1003.5 L546.4,974.4 L546.8,974.3 L547.2,1003.5 L547.6,1003.3 L548.0,975.4 L547.6,960.9 L548.0,1000.7 L548.4,1000.8 L548.8,960.4 L549.2,960.9 L549.6,999.9 L550.0,999.8 L550.4,960.1 L550.8,961.2 L551.2,1000.4 L551.6,1000.7 L552.0,954.5 L551.6,954.0 L552.0,997.8 L552.4,998.1 L552.8,954.5 L553.2,954.4 L553.6,998.1 L554.0,996.7 L554.4,954.5 L554.8,954.2 L555.2,997.5 L555.6,996.3 L556.0,954.7 L556.4,953.6 L556.8,997.9 L557.2,997.5 L557.6,953.3 L557.6,965.8 L558.0,997.3 L558.4,997.6 L558.8,966.1 L559.2,965.9 L559.6,996.2 L560.0,997.2 L560.4,966.1 L560.8,965.9 L561.2,996.8 L561.6,995.4 L562.0,964.6 L561.6,971.8 L562.0,996.6 L562.4,1009.0 L562.8,952.8 L563.2,952.8 L563.6,1009.0 L564.0,1009.0 L564.4,952.8 L564.6,974.6 L565.0,998.4 L565.4,997.8 L565.8,975.6 L566.2,975.0 L566.6,999.2 L567.0,998.8 L567.4,975.2 L567.8,975.4 L568.2,999.2 L568.6,997.6 L569.0,925.0 L568.6,925.0 L569.0,1000.9 L569.4,1001.2 L569.8,925.0 L570.2,925.0 L570.6,1000.5 L571.0,1001.0 L571.4,925.0 L571.6,925.0 L572.0,996.7 L572.4,997.0 L572.8,960.1 L573.2,960.0 L573.6,996.1 L574.0,996.5 L574.4,960.0 L574.8,959.8 L575.2,996.8 L575.6,995.7 L576.0,959.9 L575.6,964.1 L576.0,1000.7 L576.4,1000.1 L576.8,964.1 L577.2,964.2 L577.6,999.9 L578.0,1000.2 L578.4,965.0 L578.8,963.5 L579.2,999.8 L579.6,1000.0 L580.0,964.7 L580.4,964.1 L580.8,1000.3 L581.2,1001.4 L581.6,964.7 L581.6,968.1 L582.0,1000.6 L582.4,1001.5 L582.8,967.5 L583.2,968.2 L583.6,1000.5 L584.0,1000.9 L584.4,968.5 L584.8,968.6 L585.2,1001.4 L585.6,1000.4 L586.0,966.7 L585.6,958.2 L586.0,997.2 L586.4,998.3 L586.8,958.4 L587.2,959.0 L587.6,996.6 L587.6,995.9 L588.0,969.4 L588.4,971.3 L588.8,1009.9 L589.2,1009.9 L589.6,969.8 L589.6,974.4 L590.0,1009.9 L590.4,1009.9 L590.8,973.9 L591.2,974.5 L591.6,997.7 L592.0,997.5 L592.4,974.3 L592.8,973.7 L593.2,997.9 L593.6,998.2 L594.0,974.8 L593.6,968.3 L594.0,998.4 L594.4,997.4 L594.8,969.4 L595.2,960.5 L595.6,998.3 L596.0,996.5 L596.4,960.5 L596.6,957.7 L597.0,992.9 L597.4,993.7 L597.8,956.6 L598.2,958.2 L598.6,994.3 L599.0,993.9 L599.4,957.7 L599.8,956.7 L600.2,993.4 L600.6,992.8 L601.0,956.4 L601.4,956.4 L601.8,993.2 L602.2,992.5 L602.6,956.1 L603.0,957.3 L603.4,993.4 L603.8,992.5 L604.2,956.4 L604.6,957.1 L605.0,992.2 L604.6,1000.2 L605.0,960.0 L605.4,960.7 L605.8,999.0 L606.2,999.0 L606.6,961.2 L606.6,954.9 L607.0,993.8 L607.4,993.7 L607.8,955.2 L608.2,955.0 L608.6,992.8 L609.0,994.0 L609.4,955.2 L609.6,968.6 L610.0,993.2 L610.4,992.6 L610.8,968.6 L611.2,967.6 L611.6,992.0 L611.6,1010.6 L612.0,964.6 L612.4,964.4 L612.8,1009.5 L613.2,1009.8 L613.6,964.2 L614.0,956.2 L614.4,1009.5 L614.6,994.1 L615.0,956.2 L615.4,956.2 L615.8,993.5 L616.2,994.5 L616.6,956.2 L617.0,956.2 L617.4,993.9 L617.6,994.1 L618.0,948.8 L618.4,948.7 L618.8,993.2 L619.2,994.2 L619.6,948.5 L620.0,950.2 L620.4,993.5 L620.8,993.5 L621.2,948.9 L621.6,948.8 L622.0,994.0 L622.4,992.8 L622.8,948.9 L623.2,949.7 L623.6,993.6 L623.6,996.2 L624.0,971.8 L624.4,972.2 L624.8,996.5 L625.2,996.3 L625.6,972.7 L625.6,966.1 L626.0,995.7 L626.4,994.4 L626.8,964.8 L627.2,966.2 L627.6,995.2 L628.0,994.9 L628.4,965.6 L628.6,959.0 L629.0,992.1 L629.4,991.0 L629.8,954.5 L630.2,954.5 L630.6,992.7 L631.0,992.3 L631.4,954.5 L631.8,954.5 L632.2,991.1 L632.6,990.6 L633.0,954.5 L632.6,954.5 L633.0,999.0 L633.4,998.8 L633.8,954.5 L634.2,954.5 L634.6,999.5 L635.0,998.6 L635.4,954.5 L635.8,954.5 L636.2,998.5 L636.6,998.9 L637.0,954.5 L637.4,954.5 L637.8,998.4 L638.2,998.0 L638.6,965.7 L639.0,965.4 L639.4,997.7 L639.8,997.7 L640.2,964.4 L640.6,965.6 L641.0,997.9 L640.6,993.4 L641.0,968.3 L641.4,969.9 L641.8,991.6 L642.2,992.5 L642.6,968.3 L643.0,969.9 L643.4,992.9 L643.6,992.0 L644.0,966.8 L644.4,966.1 L644.8,990.4 L645.2,991.7 L645.6,967.0 L646.0,966.4 L646.4,992.1 L646.6,990.7 L647.0,969.1 L647.4,970.4 L647.8,990.3 L648.2,990.2 L648.6,958.0 L648.6,958.0 L649.0,993.6 L649.4,993.7 L649.8,958.0 L650.2,958.0 L650.6,993.3 L651.0,994.7 L651.4,962.4 L651.6,969.7 L652.0,997.4 L652.4,997.0 L652.8,969.3 L653.2,969.2 L653.6,997.9 L654.0,997.2 L654.4,969.5 L654.6,965.7 L655.0,996.5 L655.4,997.6 L655.8,965.3 L656.2,966.2 L656.6,997.5 L656.6,991.6 L657.0,964.8 L657.4,952.8 L657.8,992.2 L658.2,992.6 L658.6,952.8 L659.0,952.8 L659.4,992.8 L659.8,992.5 L660.2,952.8 L660.6,952.8 L661.0,991.8 L661.4,991.7 L661.8,952.8 L662.2,952.8 L662.6,992.1 L663.0,991.3 L663.4,952.8 L663.8,964.9 L664.2,991.3 L664.6,991.3 L665.0,965.0 L664.6,945.5 L665.0,994.0 L665.4,1004.7 L665.8,945.4 L666.2,945.1 L666.6,1004.7 L666.6,1004.7 L667.0,946.8 L667.4,946.4 L667.8,1004.7 L668.2,995.0 L668.6,945.6 L669.0,945.5 L669.4,995.4 L669.8,996.1 L670.2,945.6 L670.6,944.6 L671.0,995.9 L671.4,995.4 L671.8,944.8 L672.2,946.2 L672.6,995.8 L672.6,994.0 L673.0,964.2 L673.4,965.0 L673.8,992.7 L674.2,993.9 L674.6,964.6 L675.0,964.0 L675.4,993.7 L675.8,993.1 L676.2,964.0 L676.6,965.3 L677.0,994.2 L677.4,993.1 L677.8,965.4 L677.6,963.9 L678.0,996.4 L678.4,994.7 L678.8,964.0 L679.2,964.5 L679.6,994.7 L680.0,994.4 L680.4,964.3 L680.8,964.9 L681.2,995.3 L681.6,994.5 L682.0,964.3 L681.6,953.0 L682.0,989.8 L682.4,989.0 L682.8,952.0 L683.2,953.4 L683.6,990.6 L684.0,989.9 L684.4,952.2 L684.8,937.2 L685.2,988.8 L685.6,990.3 L686.0,937.2 L686.4,937.2 L686.8,990.5 L686.6,993.8 L687.0,937.2 L687.4,960.7 L687.8,993.8 L688.2,993.8 L688.6,960.6 L689.0,959.3 L689.4,993.4 L689.1,992.1 L689.5,949.9 L689.9,949.2 L690.3,991.5 L690.7,991.3 L691.1,949.6 L691.5,948.0 L691.9,992.2 L692.1,992.6 L692.5,958.1 L692.9,959.3 L693.3,993.6 L693.7,991.9 L694.1,959.4 L694.5,958.9 L694.9,992.6 L695.3,991.8 L695.7,958.3 L696.1,957.7 L696.5,992.3 L696.1,990.7 L696.5,944.9 L696.9,946.6 L697.3,990.3 L697.7,989.8 L698.1,945.3 L698.5,945.3 L698.9,989.8 L699.3,990.5 L699.7,946.4 L700.1,945.0 L700.5,990.1 L700.9,989.7 L701.3,945.5 L701.7,945.8 L702.1,989.9 L702.1,988.9 L702.5,966.4 L702.9,967.0 L703.3,989.1 L703.7,989.6 L704.1,965.8 L704.5,966.2 L704.9,988.7 L705.3,988.9 L705.7,966.6 L706.1,937.2 L706.5,988.7 L706.9,989.4 L707.3,937.2 L707.7,937.2 L708.1,989.3 L708.1,988.1 L708.5,937.2 L708.9,962.6 L709.3,988.5 L709.7,987.2 L710.1,961.7 L710.5,961.7 L710.9,987.1 L710.6,990.3 L711.0,956.4 L711.4,957.2 L711.8,992.1 L712.2,991.3 L712.6,956.9 L713.0,956.2 L713.4,990.9 L713.6,986.4 L714.0,951.6 L714.4,952.8 L714.8,986.2 L715.2,986.4 L715.6,953.0 L716.0,952.8 L716.4,986.9 L716.8,987.7 L717.2,951.6 L717.6,951.7 L718.0,987.1 L718.4,987.3 L718.8,951.0 L719.2,952.7 L719.6,985.8 L720.0,986.1 L720.4,952.2 L720.8,951.0 L721.2,986.2 L721.6,987.3 L722.0,951.9 L721.6,942.1 L722.0,989.0 L722.4,989.8 L722.8,942.2 L723.2,941.4 L723.6,990.4 L723.6,986.2 L724.0,958.5 L724.4,959.8 L724.8,986.1 L725.2,987.0 L725.6,958.7 L726.0,958.2 L726.4,986.8 L726.8,987.2 L727.2,958.9 L727.6,959.4 L728.0,986.1 L727.6,991.5 L728.0,962.6 L728.4,954.5 L728.8,989.9 L729.2,990.5 L729.6,954.5 L730.0,954.5 L730.4,991.2 L730.6,1003.3 L731.0,940.2 L731.4,940.5 L731.8,1001.3 L732.2,1001.6 L732.6,941.8 L733.0,940.4 L733.4,1002.7 L733.6,985.2 L734.0,962.0 L734.4,962.0 L734.8,985.9 L735.2,985.2 L735.6,961.7 L736.0,961.2 L736.4,986.7 L736.1,986.6 L736.5,954.0 L736.9,953.9 L737.3,988.1 L737.7,986.7 L738.1,954.8 L738.5,954.7 L738.9,986.4 L738.6,986.1 L739.0,947.6 L739.4,947.6 L739.8,985.4 L740.2,984.9 L740.6,947.6 L741.0,947.6 L741.4,985.3 L741.8,985.3 L742.2,963.4 L742.6,964.3 L743.0,985.7 L743.4,985.1 L743.8,963.0 L744.2,963.9 L744.6,984.8 L745.0,984.7 L745.4,963.5 L745.8,964.0 L746.2,984.8 L746.6,984.9 L747.0,962.7 L746.6,962.5 L747.0,984.7 L747.4,985.5 L747.8,962.8 L748.2,963.0 L748.6,985.6 L749.0,984.4 L749.4,962.7 L749.8,964.0 L750.2,985.2 L750.6,984.2 L751.0,945.8 L751.4,945.8 L751.8,985.8 L751.6,987.4 L752.0,945.8 L752.4,945.8 L752.8,987.1 L753.2,986.0 L753.6,945.8 L754.0,945.8 L754.4,987.5 L754.6,986.4 L755.0,949.6 L755.4,949.7 L755.8,984.8 L756.2,985.3 L756.6,950.7 L757.0,950.7 L757.4,984.7 L757.1,984.9 L757.5,957.7 L757.9,959.2 L758.3,984.7 L758.7,985.1 L759.1,957.8 L759.5,958.8 L759.9,983.6 L760.3,984.6 L760.7,958.1 L761.1,957.3 L761.5,983.3 L761.9,984.9 L762.3,958.0 L762.7,959.2 L763.1,983.8 L763.1,987.5 L763.5,947.4 L763.9,947.3 L764.3,987.3 L764.7,987.2 L765.1,945.7 L765.5,946.3 L765.9,986.7 L766.3,987.0 L766.7,946.0 L767.1,946.4 L767.5,986.4 L767.9,986.9 L768.3,945.7 L768.7,946.1 L769.1,986.7 L769.5,986.2 L769.9,946.4 L770.3,946.1 L770.7,986.3 L771.1,987.1 L771.5,946.5 L771.1,951.0 L771.5,984.8 L771.9,984.3 L772.3,951.0 L772.7,951.0 L773.1,985.1 L773.5,984.6 L773.9,951.0 L774.3,951.0 L774.7,984.0 L775.1,984.2 L775.5,951.0 L775.1,951.0 L775.5,984.2 L775.9,984.8 L776.3,951.0 L776.7,951.0 L777.1,984.2 L777.5,983.4 L777.9,951.0 L778.3,951.0 L778.7,983.8 L779.1,983.4 L779.5,951.0 L779.1,938.2 L779.5,986.9 L779.9,985.4 L780.3,938.4 L780.7,937.4 L781.1,985.1 L781.5,986.3 L781.9,938.3 L782.3,937.7 L782.7,985.5 L783.1,985.8 L783.5,937.2 L783.9,938.1 L784.3,986.5 L784.1,984.9 L784.5,944.8 L784.9,945.9 L785.3,984.6 L785.7,984.8 L786.1,944.3 L786.5,945.8 L786.9,985.9 L787.3,985.9 L787.7,944.5 L788.1,945.6 L788.5,985.0 L788.9,985.7 L789.3,944.2 L789.1,955.1 L789.5,983.7 L789.9,984.6 L790.3,956.5 L790.7,956.5 L791.1,983.4 L791.5,984.1 L791.9,954.9 L792.3,955.9 L792.7,982.8 L793.1,982.8 L793.5,955.1 L793.1,952.3 L793.5,984.3 L793.9,983.5 L794.3,953.4 L794.7,936.2 L795.1,984.6 L795.1,986.0 L795.5,936.2 L795.9,936.2 L796.3,986.0 L796.7,986.5 L797.1,936.2 L797.5,936.2 L797.9,985.5 L798.1,1000.3 L798.5,957.1 L798.9,955.7 L799.3,1000.9 L799.7,1001.5 L800.1,956.0 L800.5,956.1 L800.9,1000.8 L801.1,983.9 L801.5,957.7 L801.9,956.6 L802.3,983.8 L802.7,984.2 L803.1,957.0 L803.5,956.1 L803.9,982.9 L804.1,983.7 L804.5,953.5 L804.9,954.2 L805.3,983.1 L805.7,984.7 L806.1,954.2 L806.5,953.7 L806.9,984.2 L807.1,989.7 L807.5,958.0 L807.9,958.3 L808.3,989.8 L808.7,990.2 L809.1,956.4 L809.5,957.3 L809.9,991.2 L809.6,997.7 L810.0,953.7 L810.4,954.3 L810.8,997.3 L811.2,996.9 L811.6,955.0 L812.0,954.9 L812.4,997.1 L812.8,997.6 L813.2,953.8 L813.6,954.1 L814.0,996.8 L813.6,987.0 L814.0,952.7 L814.4,952.9 L814.8,987.4 L815.2,987.4 L815.6,951.1 L816.0,951.0 L816.4,986.3 L816.1,983.3 L816.5,935.5 L816.9,936.0 L817.3,984.3 L817.7,983.7 L818.1,935.5 L818.1,957.3 L818.5,987.6 L818.9,985.8 L819.3,958.5 L819.7,957.5 L820.1,987.4 L820.5,986.3 L820.9,957.4 L821.1,952.9 L821.5,983.7 L821.9,984.7 L822.3,953.7 L822.7,952.9 L823.1,984.5 L823.1,988.2 L823.5,949.3 L823.9,948.5 L824.3,987.4 L824.7,987.7 L825.1,949.2 L825.5,947.9 L825.9,986.7 L826.1,985.2 L826.5,949.5 L826.9,949.3 L827.3,984.0 L827.7,985.1 L828.1,934.5 L828.5,934.5 L828.9,984.9 L829.3,984.2 L829.7,934.5 L830.1,934.5 L830.5,1000.3 L830.1,1000.3 L830.5,934.5 L830.9,934.5 L831.3,1000.3 L831.7,1000.3 L832.1,958.0 L832.5,958.1 L832.9,985.7 L832.6,990.3 L833.0,957.7 L833.4,958.1 L833.8,989.6 L834.2,988.8 L834.6,958.4 L834.6,949.8 L835.0,982.3 L835.4,981.8 L835.8,949.0 L836.2,949.0 L836.6,981.7 L837.0,980.8 L837.4,950.1 L837.8,950.1 L838.2,980.2 L838.6,981.9 L839.0,949.0 L838.6,949.6 L839.0,980.1 L839.4,981.3 L839.8,950.0 L840.2,950.6 L840.6,980.3 L841.0,981.0 L841.4,950.4 L841.8,949.9 L842.2,980.2 L842.6,980.6 L843.0,949.8 L842.6,932.9 L843.0,982.0 L843.4,980.3 L843.8,933.3 L844.2,932.8 L844.6,980.0 L845.0,980.7 L845.4,932.3 L845.6,938.0 L846.0,981.7 L846.4,982.0 L846.8,938.0 L847.2,951.3 L847.6,981.1 L848.0,981.2 L848.4,950.1 L848.8,951.5 L849.2,982.0 L849.6,981.5 L850.0,949.9 L849.6,934.9 L850.0,982.5 L850.4,982.3 L850.8,934.2 L851.2,934.4 L851.6,982.4 L852.0,981.2 L852.4,933.8 L852.8,934.8 L853.2,981.5 L853.6,993.4 L854.0,934.1 L854.4,933.7 L854.8,993.4 L854.6,993.4 L855.0,938.6 L855.4,929.3 L855.8,993.4 L856.2,980.5 L856.6,929.3 L856.6,929.3 L857.0,987.0 L857.4,986.5 L857.8,929.3 L858.2,952.1 L858.6,987.4 L859.0,985.6 L859.4,951.0 L859.6,952.5 L860.0,987.9 L860.4,987.0 L860.8,952.6 L861.2,951.9 L861.6,987.8 L862.0,986.6 L862.4,953.2 L862.8,952.6 L863.2,986.6 L863.6,987.0 L864.0,952.6 L864.4,951.4 L864.8,987.9 L864.6,986.1 L865.0,949.2 L865.4,948.6 L865.8,987.5 L866.2,986.9 L866.6,949.6 L867.0,948.8 L867.4,987.5 L867.6,978.7 L868.0,944.7 L868.4,944.9 L868.8,979.8 L869.2,979.5 L869.6,943.8 L870.0,944.9 L870.4,978.5 L870.6,979.0 L871.0,950.8 L871.4,950.7 L871.8,977.6 L872.2,979.0 L872.6,950.1 L872.6,949.5 L873.0,982.9 L873.4,982.6 L873.8,921.5 L874.2,921.5 L874.6,982.7 L875.0,984.0 L875.4,921.5 L875.6,921.5 L876.0,977.0 L876.4,976.9 L876.8,921.5 L877.2,950.1 L877.6,976.2 L878.0,977.0 L878.4,951.3 L878.6,942.9 L879.0,981.0 L879.4,981.1 L879.8,942.3 L880.2,943.5 L880.6,981.0 L881.0,979.4 L881.4,942.0 L881.8,942.0 L882.2,981.1 L882.6,981.1 L883.0,943.3 L883.4,942.4 L883.8,979.3 L884.2,980.7 L884.6,942.7 L884.6,927.9 L885.0,976.7 L885.4,976.3 L885.8,928.3 L886.2,926.8 L886.6,975.9 L887.0,976.7 L887.4,927.8 L887.8,926.8 L888.2,976.4 L888.6,976.4 L889.0,927.6 L889.4,926.2 L889.8,975.9 L889.6,976.3 L890.0,944.1 L890.4,944.1 L890.8,976.2 L891.2,977.6 L891.6,944.4 L892.0,945.1 L892.4,976.2 L892.8,977.1 L893.2,908.5 L893.6,908.5 L894.0,976.4 L893.6,980.3 L894.0,908.5 L894.4,908.5 L894.8,979.0 L895.2,979.7 L895.6,940.3 L896.0,940.2 L896.4,978.8 L896.8,979.3 L897.2,941.1 L897.6,939.5 L898.0,979.4 L897.6,980.7 L898.0,945.7 L898.4,945.1 L898.8,981.3 L899.2,980.8 L899.6,946.7 L900.0,945.8 L900.4,981.8 L900.8,980.5 L901.2,945.4 L901.6,945.8 L902.0,981.0 L902.4,981.8 L902.8,946.5 L902.6,947.9 L903.0,975.4 L903.4,975.7 L903.8,949.0 L904.2,949.4 L904.6,974.9 L905.0,974.1 L905.4,949.0 L905.6,945.8 L906.0,978.6 L906.4,978.5 L906.8,944.8 L907.2,944.1 L907.6,976.8 L908.0,978.0 L908.4,944.9 L908.1,941.6 L908.5,978.3 L908.9,978.6 L909.3,943.3 L909.7,942.5 L910.1,978.2 L910.5,978.6 L910.9,943.2 L910.6,942.0 L911.0,978.3 L911.4,979.0 L911.8,941.5 L912.2,942.4 L912.6,978.5 L913.0,979.7 L913.4,942.8 L913.1,915.4 L913.5,978.0 L913.9,978.1 L914.3,915.4 L914.7,915.4 L915.1,977.9 L915.5,977.9 L915.9,915.4 L916.3,945.2 L916.7,977.5 L917.1,978.3 L917.5,945.1 L917.9,944.9 L918.3,977.2 L918.7,978.4 L919.1,944.8 L919.1,946.2 L919.5,992.5 L919.9,991.0 L920.3,946.2 L920.7,945.8 L921.1,991.6 L921.5,992.3 L921.9,944.5 L922.3,945.3 L922.7,991.8 L923.1,990.3 L923.5,945.1 L923.9,945.6 L924.3,990.4 L924.7,991.2 L925.1,944.3 L925.5,944.1 L925.9,990.8 L926.3,990.0 L926.7,945.1 L927.1,944.9 L927.5,989.9 L927.1,977.5 L927.5,938.4 L927.9,939.4 L928.3,976.4 L928.7,975.9 L929.1,938.8 L929.5,938.7 L929.9,976.6 L930.3,975.9 L930.7,939.2 L931.1,927.6 L931.5,976.1 L931.9,976.0 L932.3,927.6 L932.7,927.6 L933.1,976.1 L933.1,975.2 L933.5,923.3 L933.9,923.0 L934.3,976.0 L934.7,976.2 L935.1,923.3 L935.5,923.1 L935.9,975.0 L936.3,975.3 L936.7,922.8 L937.1,921.8 L937.5,975.0 L937.1,976.9 L937.5,929.8 L937.9,930.5 L938.3,976.9 L938.7,976.6 L939.1,929.9 L939.5,929.5 L939.9,977.7 L940.1,979.5 L940.5,922.7 L940.9,920.8 L941.3,979.2 L941.7,980.6 L942.1,922.4 L942.5,920.9 L942.9,979.5 L943.1,975.0 L943.5,927.7 L943.9,928.1 L944.3,973.5 L944.7,973.1 L945.1,927.5 L945.5,928.8 L945.9,974.0 L946.3,973.2 L946.7,928.3 L947.1,927.8 L947.5,974.5 L947.9,974.5 L948.3,927.8 L948.7,928.8 L949.1,972.6 L949.1,975.4 L949.5,937.0 L949.9,935.4 L950.3,975.1 L950.7,975.2 L951.1,936.8 L951.1,940.5 L951.5,972.3 L951.9,972.3 L952.3,940.5 L952.7,940.0 L953.1,972.8 L953.5,972.0 L953.9,940.4 L954.3,939.3 L954.7,972.6 L955.1,970.9 L955.5,939.3 L955.1,942.2 L955.5,976.8 L955.9,977.0 L956.3,940.8 L956.7,941.2 L957.1,977.0 L957.5,977.1 L957.9,941.0 L958.3,941.8 L958.7,977.2 L959.1,976.0 L959.5,940.2 L959.1,941.7 L959.5,971.1 L959.9,972.0 L960.3,940.9 L960.7,941.1 L961.1,970.6 L961.5,972.0 L961.9,941.7 L962.1,941.2 L962.5,969.8 L962.9,986.5 L963.3,941.2 L963.7,942.0 L964.1,986.5 L964.1,986.5 L964.5,929.3 L964.9,929.7 L965.3,974.1 L965.7,974.2 L966.1,930.0 L966.5,929.2 L966.9,974.3 L967.1,971.1 L967.5,939.4 L967.9,939.4 L968.3,971.7 L968.7,972.1 L969.1,940.8 L969.5,941.0 L969.9,972.3 L970.3,971.7 L970.7,940.1 L971.1,938.9 L971.5,971.2 L971.9,971.6 L972.3,939.3 L972.1,935.0 L972.5,972.4 L972.9,973.1 L973.3,936.0 L973.7,935.4 L974.1,973.0 L974.5,993.4 L974.9,934.5 L974.6,924.5 L975.0,993.4 L975.4,993.4 L975.8,924.6 L976.2,923.3 L976.6,990.9 L977.0,990.7 L977.4,924.3 L977.8,923.0 L978.2,990.0 L978.6,989.3 L979.0,923.2 L979.4,923.9 L979.8,989.9 L980.2,989.6 L980.6,922.9 L980.6,920.7 L981.0,972.1 L981.4,973.0 L981.8,919.6 L982.2,920.0 L982.6,973.7 L983.0,972.7 L983.4,919.7 L983.8,919.6 L984.2,972.7 L984.6,973.4 L985.0,919.7 L985.4,918.2 L985.8,972.0 L985.6,969.3 L986.0,928.4 L986.4,927.0 L986.8,970.3 L987.2,970.2 L987.6,928.0 L987.6,915.8 L988.0,974.9 L988.4,976.2 L988.8,916.1 L989.2,914.6 L989.6,975.3 L990.0,976.2 L990.4,916.1 L990.8,914.5 L991.2,975.1 L991.6,976.0 L992.0,915.8 L992.4,914.6 L992.8,974.8 L993.2,975.5 L993.6,914.9 L994.0,913.9 L994.4,974.1 L994.8,973.7 L995.2,915.4 L995.6,915.2 L996.0,975.0 L995.6,969.0 L996.0,934.9 L996.4,935.2 L996.8,967.1 L997.2,968.7 L997.6,935.7 L998.0,934.8 L998.4,968.4 L998.1,977.1 L998.5,923.0 L998.9,924.1 L999.3,975.5 L999.7,976.7 L1000.1,919.8 L1000.5,919.8 L1000.9,975.1 L1001.3,976.3 L1001.7,919.8 L1002.1,919.8 L1002.5,989.9 L1002.9,989.9 L1003.3,924.0 L1003.7,923.6 L1004.1,989.9 L1004.1,970.0 L1004.5,926.1 L1004.9,926.6 L1005.3,970.2 L1005.7,968.8 L1006.1,926.8 L1006.5,926.7 L1006.9,969.1 L1007.3,969.6 L1007.7,925.7 L1008.1,925.3 L1008.5,969.8 L1008.1,973.4 L1008.5,923.2 L1008.9,923.1 L1009.3,974.6 L1009.7,974.5 L1010.1,923.3 L1010.5,922.6 L1010.9,973.0 L1011.1,968.3 L1011.5,931.0 L1011.9,930.5 L1012.3,968.2 L1012.7,966.5 L1013.1,917.2 L1013.5,917.2 L1013.9,966.2 L1014.3,967.3 L1014.7,917.2 L1015.1,930.3 L1015.5,966.7 L1015.1,974.6 L1015.5,933.4 L1015.9,932.9 L1016.3,974.4 L1016.7,973.6 L1017.1,932.0 L1017.5,932.2 L1017.9,973.3 L1018.1,968.5 L1018.5,932.3 L1018.9,932.9 L1019.3,967.6 L1019.7,968.4 L1020.1,932.2 L1020.5,933.2 L1020.9,967.3 L1020.6,966.3 L1021.0,916.4 L1021.4,916.8 L1021.8,967.5 L1022.2,966.7 L1022.6,916.0 L1023.0,917.5 L1023.4,966.7 L1023.8,967.3 L1024.2,916.2 L1024.6,917.1 L1025.0,966.2 L1025.4,966.6 L1025.8,915.4 L1026.2,916.5 L1026.6,967.1 L1026.6,968.6 L1027.0,929.6 L1027.4,929.8 L1027.8,969.4 L1028.2,983.0 L1028.6,930.6 L1029.0,929.6 L1029.4,983.0 L1029.6,983.0 L1030.0,931.0 L1030.4,931.3 L1030.8,966.6 L1031.2,966.0 L1031.6,930.4 L1032.0,908.5 L1032.4,966.6 L1032.6,964.9 L1033.0,908.5 L1033.4,908.5 L1033.8,964.7 L1034.2,964.5 L1034.6,908.5 L1035.0,927.8 L1035.4,963.7 L1035.6,969.5 L1036.0,927.6 L1036.4,927.0 L1036.8,968.2 L1037.2,967.5 L1037.6,925.8 L1038.0,926.5 L1038.4,968.4 L1038.6,978.7 L1039.0,918.5 L1039.4,918.3 L1039.8,977.9 L1040.2,978.3 L1040.6,918.1 L1041.0,918.7 L1041.4,977.7 L1041.8,978.9 L1042.2,917.3 L1042.6,917.8 L1043.0,976.7 L1043.4,977.5 L1043.8,917.1 L1044.2,917.2 L1044.6,977.9 L1044.6,970.4 L1045.0,926.5 L1045.4,926.1 L1045.8,970.7 L1046.2,970.7 L1046.6,925.4 L1046.6,916.4 L1047.0,962.5 L1047.4,963.2 L1047.8,916.1 L1048.2,911.1 L1048.6,962.7 L1048.6,966.8 L1049.0,911.1 L1049.4,911.1 L1049.8,966.6 L1050.2,967.6 L1050.6,921.2 L1051.0,920.0 L1051.4,967.0 L1051.6,965.3 L1052.0,924.1 L1052.4,925.5 L1052.8,965.4 L1053.2,963.7 L1053.6,924.9 L1054.0,924.7 L1054.4,964.8 L1054.6,962.3 L1055.0,926.0 L1055.4,925.5 L1055.8,975.2 L1056.2,975.2 L1056.6,926.0 L1057.0,925.9 L1057.4,975.2 L1057.8,962.3 L1058.2,924.4 L1058.6,925.0 L1059.0,961.9 L1059.4,961.4 L1059.8,924.6 L1060.2,924.8 L1060.6,960.6 L1061.0,961.2 L1061.4,923.8 L1061.8,924.3 L1062.2,960.6 L1062.6,960.8 L1063.0,923.7 L1062.6,923.7 L1063.0,970.6 L1063.4,970.3 L1063.8,923.4 L1064.2,908.5 L1064.6,969.9 L1065.0,969.3 L1065.4,908.5 L1065.8,908.5 L1066.2,969.4 L1066.6,969.9 L1067.0,921.7 L1067.4,922.0 L1067.8,969.5 L1067.6,957.9 L1068.0,916.1 L1068.4,916.9 L1068.8,957.6 L1069.2,957.6 L1069.6,916.0 L1070.0,916.2 L1070.4,956.3 L1070.8,970.0 L1071.2,915.7 L1071.6,915.9 L1072.0,970.0 L1071.6,970.0 L1072.0,916.1 L1072.4,915.6 L1072.8,955.8 L1073.2,955.8 L1073.6,915.8 L1074.0,915.5 L1074.4,956.2 L1074.8,955.4 L1075.2,916.5 L1075.6,915.8 L1076.0,955.3 L1075.6,957.9 L1076.0,893.7 L1076.4,893.1 L1076.8,956.8 L1077.2,957.9 L1077.6,893.6 L1078.0,891.5 L1078.4,956.4 L1078.8,955.9 L1079.2,891.9 L1079.6,891.9 L1080.0,957.1 L1080.4,956.7 L1080.8,890.8 L1081.2,891.1 L1081.6,954.9 L1081.6,956.4 L1082.0,916.9 L1082.4,916.4 L1082.8,956.4 L1083.2,957.1 L1083.6,915.3 L1084.0,915.9 L1084.4,955.8 L1084.8,970.0 L1085.2,915.7 L1085.6,914.5 L1086.0,970.0 L1085.6,970.0 L1086.0,908.3 L1086.4,909.2 L1086.8,970.0 L1087.2,957.2 L1087.6,907.4 L1088.0,908.7 L1088.4,955.2 L1088.8,955.4 L1089.2,908.1 L1089.6,907.4 L1090.0,956.2 L1089.6,955.1 L1090.0,895.0 L1090.4,895.0 L1090.8,954.4 L1091.2,953.0 L1091.6,895.1 L1092.0,894.4 L1092.4,952.7 L1092.8,953.1 L1093.2,894.0 L1093.6,893.9 L1094.0,953.5 L1093.6,950.8 L1094.0,905.8 L1094.4,905.8 L1094.8,950.4 L1095.2,950.3 L1095.6,904.4 L1096.0,905.4 L1096.4,949.4 L1096.1,952.5 L1096.5,911.7 L1096.9,911.3 L1097.3,953.7 L1097.7,952.2 L1098.1,911.3 L1098.5,911.4 L1098.9,951.4 L1099.3,951.2 L1099.7,910.6 L1100.1,909.0 L1100.5,950.5 L1100.1,949.4 L1100.5,897.3 L1100.9,897.0 L1101.3,948.3 L1101.7,948.6 L1102.1,897.0 L1102.5,896.4 L1102.9,948.3 L1103.3,947.6 L1103.7,896.0 L1104.1,895.0 L1104.5,946.6 L1104.9,946.4 L1105.3,894.5 L1105.7,894.8 L1106.1,947.1 L1106.5,947.0 L1106.9,893.3 L1107.3,893.8 L1107.7,946.4 L1108.1,945.3 L1108.5,869.0 L1108.1,869.0 L1108.5,943.0 L1108.9,943.1 L1109.3,869.0 L1109.7,869.0 L1110.1,941.0 L1110.1,942.9 L1110.5,896.0 L1110.9,896.2 L1111.3,942.4 L1111.7,942.6 L1112.1,894.0 L1112.5,894.7 L1112.9,941.2 L1113.3,940.8 L1113.7,893.7 L1114.1,893.9 L1114.5,940.4 L1114.1,961.1 L1114.5,893.6 L1114.9,893.7 L1115.3,961.1 L1115.7,959.0 L1116.1,892.2 L1116.1,897.0 L1116.5,946.3 L1116.9,945.8 L1117.3,896.6 L1117.7,895.6 L1118.1,943.5 L1118.5,944.6 L1118.9,877.0 L1119.3,877.0 L1119.7,942.1 L1120.1,942.2 L1120.5,877.0 L1120.9,892.3 L1121.3,941.3 L1121.7,939.7 L1122.1,891.4 L1122.1,889.7 L1122.5,930.3 L1122.9,930.4 L1123.3,889.9 L1123.7,854.3 L1124.1,930.0 L1124.5,963.6 L1124.9,854.3 L1125.1,854.3 L1125.5,963.6 L1125.9,963.6 L1126.3,875.9 L1126.7,874.2 L1127.1,931.6 L1127.5,930.4 L1127.9,873.7 L1128.3,874.2 L1128.7,930.3 L1129.1,927.9 L1129.5,872.1 L1129.1,875.7 L1129.5,931.4 L1129.9,930.4 L1130.3,875.3 L1130.7,873.6 L1131.1,929.1 L1131.5,928.2 L1131.9,872.1 L1132.3,871.1 L1132.7,925.8 L1133.1,925.2 L1133.5,869.6 L1133.1,877.5 L1133.5,919.6 L1133.9,950.6 L1134.3,862.4 L1134.7,862.4 L1135.1,950.6 L1135.5,950.6 L1135.9,862.4 L1136.3,871.8 L1136.7,914.0 L1137.1,912.2 L1137.5,869.5 L1137.9,868.8 L1138.3,910.8 L1138.1,907.9 L1138.5,843.0 L1138.9,840.5 L1139.3,907.4 L1139.7,904.4 L1140.1,840.4 L1140.1,849.8 L1140.5,913.8 L1140.9,910.9 L1141.3,845.8 L1141.7,844.7 L1142.1,909.6 L1142.5,906.3 L1142.9,838.0 L1143.3,837.8 L1143.7,902.5 L1144.1,897.3 L1144.5,832.1 L1144.1,843.9 L1144.5,884.9 L1144.9,879.9 L1145.3,762.8 L1145.7,762.8 L1146.1,868.7 L1146.1,864.8 L1146.5,824.3 L1146.9,812.3 L1147.3,852.6 L1147.7,830.0 L1148.1,789.1 L1148.5,765.0 L1148.9,806.3 L1149.1,785.4 L1149.5,745.0 L1149.9,714.2 L1150.3,755.8 L1149.3,807.0 L1149.3,950.6 L1150.5,950.6 L1150.5,807.0 L1151.5,807.0 L1151.5,950.6" fill="none" stroke="#1f00ff" stroke-width="1.8" stroke-linejoin="round" stroke-linecap="round"/>
<path d="M187.8,1027.0 L190.0,1023.5 L197.3,1018.6 L214.6,1014.2 L232.0,1011.6 L249.3,1009.0 L266.6,1007.3 L301.3,1003.9 L335.9,1001.3 L370.5,999.5 L405.2,997.8 L439.8,996.0 L480.0,993.5 L532.0,990.0 L566.6,987.4 L601.2,983.9 L635.9,981.3 L670.5,979.6 L705.2,977.0 L739.8,974.4 L780.0,971.8 L806.0,970.9 L832.0,968.3 L866.6,963.9 L901.2,960.5 L935.9,957.0 L970.5,952.7 L1005.2,948.3 L1039.8,943.1 L1056.3,939.1 L1072.6,934.2 L1089.0,929.3 L1105.3,921.2 L1118.4,911.4 L1128.1,901.6 L1134.7,891.8 L1139.6,882.0 L1142.8,872.2 L1145.1,855.9 L1147.1,823.2 L1148.7,774.3 L1150.0,725.3 L1151.0,702.4 L1152.6,682.9" fill="none" stroke="#ff0000" stroke-width="5.2" stroke-linejoin="round" stroke-linecap="round"/>
<line x1="1367.7" y1="116.2" x2="1482.1" y2="116.2" stroke="#ff0000" stroke-width="5.6" stroke-linecap="round"/>
<line x1="1368.3" y1="208.8" x2="1379.6" y2="208.8" stroke="#1f00ff" stroke-width="6.8" stroke-linecap="round"/>
<line x1="1397.7" y1="208.8" x2="1413.6" y2="208.8" stroke="#1f00ff" stroke-width="6.8" stroke-linecap="round"/>
<line x1="1432.8" y1="208.8" x2="1447.5" y2="208.8" stroke="#1f00ff" stroke-width="6.8" stroke-linecap="round"/>
<line x1="1466.8" y1="208.8" x2="1481.5" y2="208.8" stroke="#1f00ff" stroke-width="6.8" stroke-linecap="round"/>
<line x1="1363.6" y1="701.8" x2="1476.4" y2="701.8" stroke="#ff0000" stroke-width="5.6" stroke-linecap="round"/>
<line x1="1364.2" y1="793.4" x2="1373.9" y2="793.4" stroke="#1f00ff" stroke-width="6.8" stroke-linecap="round"/>
<line x1="1393.2" y1="793.4" x2="1409.0" y2="793.4" stroke="#1f00ff" stroke-width="6.8" stroke-linecap="round"/>
<line x1="1426.7" y1="793.4" x2="1441.9" y2="793.4" stroke="#1f00ff" stroke-width="6.8" stroke-linecap="round"/>
<line x1="1460.6" y1="793.4" x2="1475.8" y2="793.4" stroke="#1f00ff" stroke-width="6.8" stroke-linecap="round"/>
<text transform="translate(165.80,106.70)" font-size="46.4" fill="#262626" stroke="#262626" stroke-width="0.90" text-anchor="end" font-family="'Liberation Serif', serif">300</text>
<text transform="translate(165.80,226.30)" font-size="46.4" fill="#262626" stroke="#262626" stroke-width="0.90" text-anchor="end" font-family="'Liberation Serif', serif">200</text>
<text transform="translate(165.80,345.20)" font-size="46.4" fill="#262626" stroke="#262626" stroke-width="0.90" text-anchor="end" font-family="'Liberation Serif', serif">100</text>
<text transform="translate(150.40,464.30) scale(1.0600,1.0000)" font-size="46.4" fill="#262626" stroke="#262626" stroke-width="0.90" text-anchor="middle" font-family="'Liberation Serif', serif">0</text>
<text transform="translate(202.50,497.20) scale(1.0300,1.0000)" font-size="43.6" fill="#262626" stroke="#262626" stroke-width="1.00" text-anchor="middle" font-family="'Liberation Serif', serif">0</text>
<text transform="translate(367.90,497.20) scale(1.0300,1.0000)" font-size="43.6" fill="#262626" stroke="#262626" stroke-width="1.00" text-anchor="middle" font-family="'Liberation Serif', serif">1000</text>
<text transform="translate(519.50,497.20) scale(1.0300,1.0000)" font-size="43.6" fill="#262626" stroke="#262626" stroke-width="1.00" text-anchor="middle" font-family="'Liberation Serif', serif">2000</text>
<text transform="translate(677.00,497.20) scale(1.0300,1.0000)" font-size="43.6" fill="#262626" stroke="#262626" stroke-width="1.00" text-anchor="middle" font-family="'Liberation Serif', serif">3000</text>
<text transform="translate(831.50,497.20) scale(1.0500,1.0000)" font-size="43.6" fill="#262626" stroke="#262626" stroke-width="0.30" text-anchor="middle" font-family="'Liberation Serif', serif">4000</text>
<text transform="translate(989.00,497.20) scale(1.0500,1.0000)" font-size="43.6" fill="#262626" stroke="#262626" stroke-width="0.30" text-anchor="middle" font-family="'Liberation Serif', serif">5000</text>
<text transform="translate(1145.40,497.20) scale(1.0500,1.0000)" font-size="43.6" fill="#262626" stroke="#262626" stroke-width="0.30" text-anchor="middle" font-family="'Liberation Serif', serif">6000</text>
<text transform="translate(1301.50,497.20) scale(1.0500,1.0000)" font-size="43.6" fill="#262626" stroke="#262626" stroke-width="0.30" text-anchor="middle" font-family="'Liberation Serif', serif">7000</text>
<text transform="translate(162.40,693.40) scale(1.0100,1.0000)" font-size="46.4" fill="#262626" stroke="#262626" stroke-width="0.90" text-anchor="end" font-family="'Liberation Serif', serif">300</text>
<text transform="translate(162.40,814.00) scale(1.0100,1.0000)" font-size="46.4" fill="#262626" stroke="#262626" stroke-width="0.90" text-anchor="end" font-family="'Liberation Serif', serif">200</text>
<text transform="translate(162.40,935.80) scale(1.0100,1.0000)" font-size="46.4" fill="#262626" stroke="#262626" stroke-width="0.90" text-anchor="end" font-family="'Liberation Serif', serif">100</text>
<text transform="translate(147.90,1055.20) scale(1.0400,1.0000)" font-size="46.4" fill="#262626" stroke="#262626" stroke-width="0.90" text-anchor="middle" font-family="'Liberation Serif', serif">0</text>
<text transform="translate(194.30,1087.20) scale(1.0300,1.0000)" font-size="43.6" fill="#262626" stroke="#262626" stroke-width="1.00" text-anchor="middle" font-family="'Liberation Serif', serif">0</text>
<text transform="translate(343.70,1087.20) scale(1.0300,1.0000)" font-size="43.6" fill="#262626" stroke="#262626" stroke-width="1.00" text-anchor="middle" font-family="'Liberation Serif', serif">1000</text>
<text transform="translate(504.30,1087.20) scale(1.0300,1.0000)" font-size="43.6" fill="#262626" stroke="#262626" stroke-width="1.00" text-anchor="middle" font-family="'Liberation Serif', serif">2000</text>
<text transform="translate(676.60,1087.20) scale(1.0300,1.0000)" font-size="43.6" fill="#262626" stroke="#262626" stroke-width="1.00" text-anchor="middle" font-family="'Liberation Serif', serif">3000</text>
<text transform="translate(825.30,1087.20) scale(1.0500,1.0000)" font-size="43.6" fill="#262626" stroke="#262626" stroke-width="0.30" text-anchor="middle" font-family="'Liberation Serif', serif">4000</text>
<text transform="translate(976.50,1087.20) scale(1.0500,1.0000)" font-size="43.6" fill="#262626" stroke="#262626" stroke-width="0.30" text-anchor="middle" font-family="'Liberation Serif', serif">5000</text>
<text transform="translate(1131.50,1087.20) scale(1.0500,1.0000)" font-size="43.6" fill="#262626" stroke="#262626" stroke-width="0.30" text-anchor="middle" font-family="'Liberation Serif', serif">6000</text>
<text transform="translate(1289.50,1087.20) scale(1.0500,1.0000)" font-size="43.6" fill="#262626" stroke="#262626" stroke-width="0.30" text-anchor="middle" font-family="'Liberation Serif', serif">7000</text>
<text transform="translate(1104.00,572.70) scale(1.0010,1.0000)" font-size="60.0" fill="#000" stroke="#000" stroke-width="0.35" text-anchor="middle" font-family="'Liberation Serif', serif">Number of dataset</text>
<text transform="translate(1117.20,1161.40) scale(0.9980,1.0000)" font-size="60.0" fill="#000" stroke="#000" stroke-width="0.35" text-anchor="middle" font-family="'Liberation Serif', serif">Number of dataset</text>
<text transform="translate(56.60,235.50) rotate(-90) scale(1.0100,1.0200)" font-size="60.0" fill="#000" stroke="#000" stroke-width="0.80" text-anchor="middle" font-family="'Liberation Serif', serif">PM10 value</text>
<text transform="translate(49.00,826.80) rotate(-90) scale(1.0180,1.0500)" font-size="60.0" fill="#000" stroke="#000" stroke-width="0.80" text-anchor="middle" font-family="'Liberation Serif', serif">PM10 value</text>
<text transform="translate(1601.40,130.60) scale(0.9600,1.0000)" font-size="46.0" fill="#000" stroke="#000" stroke-width="0.40" text-anchor="middle" font-family="'Liberation Serif', serif">Label</text>
<text transform="translate(1636.50,216.20) scale(0.9650,1.0000)" font-size="46.0" fill="#000" stroke="#000" stroke-width="0.40" text-anchor="middle" font-family="'Liberation Serif', serif">Prediction</text>
<text transform="translate(1595.70,714.70) scale(0.9800,1.0000)" font-size="46.0" fill="#000" stroke="#000" stroke-width="0.40" text-anchor="middle" font-family="'Liberation Serif', serif">Label</text>
<text transform="translate(1631.80,801.20) scale(0.9650,1.0000)" font-size="46.0" fill="#000" stroke="#000" stroke-width="0.40" text-anchor="middle" font-family="'Liberation Serif', serif">Prediction</text>
<text transform="translate(45.00,35.50) scale(0.9480,1.0000)" font-size="47.8" fill="#111" stroke="#111" stroke-width="0.30" text-anchor="middle" font-family="'Liberation Sans', sans-serif">(A)</text>
<text transform="translate(42.90,620.20) scale(0.9100,1.0000)" font-size="47.8" fill="#111" stroke="#111" stroke-width="0.30" text-anchor="middle" font-family="'Liberation Sans', sans-serif">(B)</text>
</svg>
</body>
</html>
